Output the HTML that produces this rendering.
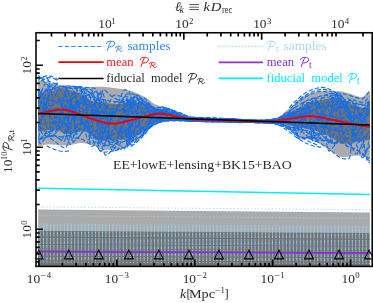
<!DOCTYPE html>
<html><head><meta charset="utf-8"><title>plot</title>
<style>html,body{margin:0;padding:0;background:#fff;overflow:hidden}svg{display:block;will-change:transform}text{font-family:"Liberation Serif",serif;white-space:pre}</style></head>
<body>
<svg width="373" height="303" viewBox="0 0 373 303" font-family="'Liberation Serif', serif">
<rect width="373" height="303" fill="#fff"/>
<defs><clipPath id="ax"><rect x="38.1" y="32.75" width="331.8" height="233.65"/></clipPath></defs>
<g clip-path="url(#ax)">
<polygon points="36,209.5 372.2,212.5 372.2,266.4 36,266.4" fill="#ababab"/>
<polygon points="36,230.7 372.2,233.0 372.2,266.4 36,266.4" fill="#737373"/>
<polygon points="36,79.6 38,79.85 40,80.17 41.99,80.54 43.99,80.97 45.99,81.43 47.99,81.92 49.98,82.41 51.98,82.9 53.98,83.37 55.98,83.8 57.97,84.19 59.97,84.57 61.97,84.94 63.97,85.28 65.96,85.59 67.96,85.86 69.96,86.12 71.96,86.39 73.95,86.65 75.95,86.88 77.95,87.09 79.95,87.25 81.95,87.36 83.94,87.4 85.94,87.37 87.94,87.3 89.94,87.2 91.93,87.08 93.93,86.96 95.93,86.85 97.93,86.76 99.92,86.71 101.92,86.71 103.92,86.83 105.92,87.03 107.91,87.29 109.91,87.58 111.91,87.86 113.91,88.11 115.9,88.35 117.9,88.59 119.9,88.84 121.9,89.12 123.9,89.43 125.89,89.78 127.89,90.19 129.89,90.71 131.89,91.34 133.88,92.05 135.88,92.83 137.88,93.67 139.88,94.54 141.87,95.49 143.87,96.56 145.87,97.74 147.87,99.02 149.86,100.4 151.86,102.18 153.86,103.64 155.86,104.57 157.85,105.34 159.85,105.99 161.85,106.58 163.85,107.16 165.85,107.78 167.84,108.47 169.84,109.18 171.84,109.88 173.84,110.59 175.83,111.31 177.83,112.02 179.83,112.74 181.83,113.52 183.82,114.39 185.82,115.23 187.82,115.91 189.82,116.33 191.81,116.58 193.81,116.79 195.81,116.96 197.81,117.11 199.8,117.24 201.8,117.36 203.8,117.49 205.8,117.61 207.8,117.73 209.79,117.84 211.79,117.94 213.79,118.04 215.79,118.14 217.78,118.23 219.78,118.33 221.78,118.42 223.78,118.51 225.77,118.6 227.77,118.69 229.77,118.79 231.77,118.89 233.76,119 235.76,119.13 237.76,119.25 239.76,119.38 241.75,119.51 243.75,119.63 245.75,119.75 247.75,119.86 249.75,119.96 251.74,120.05 253.74,120.12 255.74,120.17 257.74,120.19 259.73,120.19 261.73,120.13 263.73,120 265.73,119.83 267.72,119.63 269.72,119.38 271.72,119.02 273.72,118.56 275.71,117.98 277.71,117.31 279.71,116.32 281.71,114.81 283.7,113.06 285.7,111.34 287.7,109.77 289.7,108.22 291.7,106.63 293.69,104.96 295.69,103.14 297.69,100.97 299.69,98.8 301.68,97.13 303.68,95.93 305.68,95.05 307.68,94.31 309.67,93.67 311.67,93.11 313.67,92.64 315.67,92.19 317.66,91.73 319.66,91.31 321.66,90.95 323.66,90.68 325.65,90.53 327.65,90.51 329.65,90.56 331.65,90.65 333.65,90.79 335.64,90.96 337.64,91.15 339.64,91.36 341.64,91.62 343.63,91.99 345.63,92.44 347.63,92.96 349.63,93.51 351.62,94.19 353.62,94.98 355.62,95.66 357.62,96.31 359.61,96.88 361.61,97.19 363.61,96.59 365.61,94.8 367.6,92.95 369.6,91.27 371.6,89.5 371.6,158.5 369.6,158.12 367.6,157.69 365.61,157.15 363.61,156.58 361.61,156.07 359.61,155.68 357.62,155.5 355.62,155.57 353.62,155.81 351.62,156.15 349.63,156.52 347.63,156.87 345.63,157.11 343.63,157.2 341.64,156.91 339.64,156.19 337.64,155.13 335.64,153.85 333.65,152.42 331.65,150.96 329.65,149.56 327.65,148.31 325.65,147.25 323.66,146.18 321.66,145.12 319.66,144.07 317.66,143.05 315.67,142.11 313.67,141.24 311.67,140.48 309.67,139.87 307.68,139.35 305.68,138.86 303.68,138.33 301.68,137.71 299.69,136.89 297.69,135.76 295.69,134.41 293.69,132.97 291.7,131.56 289.7,130.29 287.7,129 285.7,127.67 283.7,126.44 281.71,125.43 279.71,124.78 277.71,124.37 275.71,124.04 273.72,123.77 271.72,123.55 269.72,123.38 267.72,123.23 265.73,123.1 263.73,122.99 261.73,122.9 259.73,122.82 257.74,122.76 255.74,122.7 253.74,122.65 251.74,122.6 249.75,122.56 247.75,122.52 245.75,122.48 243.75,122.45 241.75,122.42 239.76,122.38 237.76,122.35 235.76,122.31 233.76,122.28 231.77,122.24 229.77,122.19 227.77,122.15 225.77,122.11 223.78,122.07 221.78,122.03 219.78,121.99 217.78,121.95 215.79,121.9 213.79,121.86 211.79,121.81 209.79,121.76 207.8,121.71 205.8,121.65 203.8,121.59 201.8,121.52 199.8,121.44 197.81,121.36 195.81,121.26 193.81,121.17 191.81,121.08 189.82,120.99 187.82,120.9 185.82,120.79 183.82,120.69 181.83,120.62 179.83,120.6 177.83,120.62 175.83,120.66 173.84,120.73 171.84,120.82 169.84,120.93 167.84,121.06 165.85,121.21 163.85,121.54 161.85,122.14 159.85,122.95 157.85,123.93 155.86,125.02 153.86,126.18 151.86,127.41 149.86,129.08 147.87,131.1 145.87,133.29 143.87,135.49 141.87,137.51 139.88,139.17 137.88,140.42 135.88,141.44 133.88,142.36 131.89,143.29 129.89,144.33 127.89,145.68 125.89,146.59 123.9,147.36 121.9,148.04 119.9,148.6 117.9,149.06 115.9,149.39 113.91,149.61 111.91,149.8 109.91,149.96 107.91,150.09 105.92,150.17 103.92,150.2 101.92,149.82 99.92,148.92 97.93,147.75 95.93,146.59 93.93,145.67 91.93,145.08 89.94,144.52 87.94,143.99 85.94,143.54 83.94,143.21 81.95,143.02 79.95,143.04 77.95,143.33 75.95,143.79 73.95,144.33 71.96,144.86 69.96,145.28 67.96,145.49 65.96,145.48 63.97,145.38 61.97,145.24 59.97,145.07 57.97,144.89 55.98,144.73 53.98,144.6 51.98,144.49 49.98,144.38 47.99,144.31 45.99,144.39 43.99,144.92 41.99,145.62 40,146.16 38,146.6 36,147" fill="#ababab"/>
<polygon points="36,94.5 38,94.17 40,93.83 41.99,93.51 43.99,93.18 45.99,92.84 47.99,92.45 49.98,92 51.98,91.33 53.98,90.42 55.98,89.44 57.97,88.6 59.97,88.08 61.97,88.03 63.97,88.27 65.96,88.71 67.96,89.3 69.96,89.97 71.96,90.68 73.95,91.38 75.95,92.13 77.95,93 79.95,93.96 81.95,94.96 83.94,95.97 85.94,97.15 87.94,98.57 89.94,99.98 91.93,101.17 93.93,101.89 95.93,101.99 97.93,101.9 99.92,101.82 101.92,101.84 103.92,102.17 105.92,102.67 107.91,103.17 109.91,103.49 111.91,103.65 113.91,103.79 115.9,103.9 117.9,103.97 119.9,104 121.9,103.8 123.9,103.28 125.89,102.62 127.89,101.99 129.89,101.57 131.89,101.53 133.88,101.76 135.88,102.17 137.88,102.67 139.88,103.17 141.87,103.68 143.87,104.27 145.87,104.92 147.87,105.63 149.86,106.41 151.86,107.41 153.86,108.26 155.86,108.88 157.85,109.42 159.85,109.91 161.85,110.36 163.85,110.8 165.85,111.27 167.84,111.76 169.84,112.26 171.84,112.76 173.84,113.26 175.83,113.76 177.83,114.26 179.83,114.76 181.83,115.3 183.82,115.89 185.82,116.46 187.82,116.95 189.82,117.28 191.81,117.48 193.81,117.64 195.81,117.77 197.81,117.88 199.8,117.99 201.8,118.09 203.8,118.19 205.8,118.3 207.8,118.4 209.79,118.5 211.79,118.6 213.79,118.69 215.79,118.78 217.78,118.87 219.78,118.96 221.78,119.05 223.78,119.13 225.77,119.22 227.77,119.3 229.77,119.39 231.77,119.48 233.76,119.58 235.76,119.68 237.76,119.79 239.76,119.9 241.75,120.01 243.75,120.12 245.75,120.22 247.75,120.31 249.75,120.4 251.74,120.47 253.74,120.53 255.74,120.57 257.74,120.6 259.73,120.6 261.73,120.6 263.73,120.6 265.73,120.6 267.72,120.6 269.72,120.6 271.72,120.52 273.72,120.25 275.71,119.85 277.71,119.37 279.71,118.72 281.71,117.72 283.7,116.55 285.7,115.37 287.7,114.21 289.7,112.98 291.7,111.72 293.69,110.52 295.69,109.44 297.69,108.49 299.69,107.57 301.68,106.6 303.68,105.53 305.68,104.66 307.68,103.91 309.67,103.23 311.67,102.61 313.67,102.02 315.67,101.46 317.66,100.91 319.66,100.39 321.66,99.89 323.66,99.44 325.65,99.02 327.65,98.64 329.65,98.23 331.65,97.84 333.65,97.55 335.64,97.4 337.64,97.57 339.64,98.16 341.64,99.02 343.63,99.99 345.63,100.94 347.63,101.84 349.63,102.86 351.62,103.92 353.62,104.92 355.62,105.79 357.62,106.67 359.61,107.53 361.61,108.18 363.61,108.4 365.61,108.17 367.6,107.57 369.6,106.61 371.6,105.3 371.6,140 369.6,140.13 367.6,140.28 365.61,140.47 363.61,140.69 361.61,140.93 359.61,141.2 357.62,141.48 355.62,141.77 353.62,142.06 351.62,142.44 349.63,142.88 347.63,143.29 345.63,143.59 343.63,143.7 341.64,143.42 339.64,142.75 337.64,141.76 335.64,140.57 333.65,139.26 331.65,137.93 329.65,136.68 327.65,135.6 325.65,134.71 323.66,133.82 321.66,132.93 319.66,132.08 317.66,131.28 315.67,130.55 313.67,129.93 311.67,129.43 309.67,129.03 307.68,128.69 305.68,128.4 303.68,128.11 301.68,127.79 299.69,127.43 297.69,127.03 295.69,126.62 293.69,126.19 291.7,125.76 289.7,125.33 287.7,124.85 285.7,124.33 283.7,123.84 281.71,123.43 279.71,123.17 277.71,123.01 275.71,122.88 273.72,122.77 271.72,122.68 269.72,122.59 267.72,122.5 265.73,122.42 263.73,122.35 261.73,122.28 259.73,122.22 257.74,122.16 255.74,122.11 253.74,122.05 251.74,122 249.75,121.95 247.75,121.91 245.75,121.86 243.75,121.82 241.75,121.77 239.76,121.73 237.76,121.68 235.76,121.64 233.76,121.59 231.77,121.54 229.77,121.49 227.77,121.44 225.77,121.39 223.78,121.34 221.78,121.29 219.78,121.24 217.78,121.19 215.79,121.14 213.79,121.08 211.79,121.03 209.79,120.97 207.8,120.91 205.8,120.86 203.8,120.79 201.8,120.73 199.8,120.66 197.81,120.59 195.81,120.52 193.81,120.44 191.81,120.37 189.82,120.29 187.82,120.2 185.82,120.1 183.82,120 181.83,119.92 179.83,119.9 177.83,119.9 175.83,119.91 173.84,119.92 171.84,119.93 169.84,119.95 167.84,119.98 165.85,120 163.85,120.15 161.85,120.48 159.85,120.96 157.85,121.56 155.86,122.25 153.86,123 151.86,123.82 149.86,125.05 147.87,126.61 145.87,128.36 143.87,130.14 141.87,131.81 139.88,133.22 137.88,134.31 135.88,135.28 133.88,136.16 131.89,137.01 129.89,137.87 127.89,138.83 125.89,139.2 123.9,139.42 121.9,139.58 119.9,139.71 117.9,139.81 115.9,139.94 113.91,140.09 111.91,140.28 109.91,140.47 107.91,140.64 105.92,140.76 103.92,140.8 101.92,140.55 99.92,139.93 97.93,139.06 95.93,138.06 93.93,137.05 91.93,135.95 89.94,134.44 87.94,132.85 85.94,131.55 83.94,130.92 81.95,131.06 79.95,131.53 77.95,132.01 75.95,132.46 73.95,132.96 71.96,133.44 69.96,133.81 67.96,133.99 65.96,133.83 63.97,133.22 61.97,132.32 59.97,131.3 57.97,130.36 55.98,129.67 53.98,129.4 51.98,129.52 49.98,129.81 47.99,130.21 45.99,130.64 43.99,131.03 41.99,131.31 40,131.42 38,131.48 36,131.5" fill="#737373"/>
<g stroke="#93d2f8" stroke-width="1.0" stroke-dasharray="1.1 2.37" fill="none">
<line x1="36" y1="206.9" x2="372.2" y2="209.84"/>
<line x1="36" y1="215.6" x2="372.2" y2="218.41"/>
<line x1="36" y1="224" x2="372.2" y2="226.69"/>
<line x1="36" y1="225.3" x2="372.2" y2="227.97"/>
<line x1="36" y1="226.6" x2="372.2" y2="229.25"/>
<line x1="36" y1="227.9" x2="372.2" y2="230.53"/>
<line x1="36" y1="229.2" x2="372.2" y2="231.81"/>
<line x1="36" y1="230.5" x2="372.2" y2="233.07"/>
<line x1="36" y1="232.1" x2="372.2" y2="234.59"/>
<line x1="36" y1="233.4" x2="372.2" y2="235.83"/>
<line x1="36" y1="234.7" x2="372.2" y2="237.06"/>
<line x1="36" y1="235.9" x2="372.2" y2="238.21"/>
<line x1="36" y1="238.4" x2="372.2" y2="240.58"/>
<line x1="36" y1="239.7" x2="372.2" y2="241.81"/>
<line x1="36" y1="241" x2="372.2" y2="243.05"/>
<line x1="36" y1="242.3" x2="372.2" y2="244.29"/>
<line x1="36" y1="243.5" x2="372.2" y2="245.43"/>
<line x1="36" y1="245.5" x2="372.2" y2="247.32"/>
<line x1="36" y1="246.7" x2="372.2" y2="248.46"/>
<line x1="36" y1="247.9" x2="372.2" y2="249.61"/>
<line x1="36" y1="249.7" x2="372.2" y2="251.31"/>
<line x1="36" y1="252.7" x2="372.2" y2="254.19"/>
<line x1="36" y1="253.9" x2="372.2" y2="255.37"/>
<line x1="36" y1="255.1" x2="372.2" y2="256.55"/>
<line x1="36" y1="257.3" x2="372.2" y2="258.72"/>
<line x1="36" y1="258.5" x2="372.2" y2="259.9"/>
<line x1="36" y1="259.7" x2="372.2" y2="261.08"/>
<line x1="36" y1="262" x2="372.2" y2="263.35"/>
</g>
<g stroke="#0f6eee" stroke-width="1.12" stroke-dasharray="4.4 2.03" fill="none" stroke-linejoin="round">
<path d="M35 93.8 L36 96.0 L37 98.9 L38 102.8 L39 106.7 L40 109.5 L41 110.5 L42 110.5 L43 110.4 L44 110.3 L45 110.1 L46 110.0 L47 109.8 L48 109.7 L49 109.5 L50 109.4 L51 109.2 L52 109.1 L53 109.0 L54 108.8 L55 108.7 L56 108.6 L57 108.6 L58 108.5 L59 108.5 L60 108.6 L61 108.7 L62 108.8 L63 108.9 L64 109.1 L65 109.3 L66 109.6 L67 109.8 L68 110.1 L69 110.5 L70 110.8 L71 111.2 L72 111.6 L73 112.0 L74 112.5 L75 112.9 L76 113.4 L77 113.8 L78 114.3 L79 114.7 L80 115.2 L81 115.8 L82 116.6 L83 117.8 L84 119.2 L85 120.6 L86 122.1 L87 123.6 L88 125.3 L89 127.0 L90 128.9 L91 130.8 L92 132.8 L93 134.7 L94 136.4 L95 137.9 L96 139.2 L97 140.4 L98 141.5 L99 142.7 L100 143.9 L101 145.3 L102 147.3 L103 150.0 L104 152.8 L105 154.7 L106 155.2 L107 154.7 L108 153.9 L109 153.2 L110 152.4 L111 151.6 L112 150.8 L113 150.0 L114 149.1 L115 148.1 L116 146.3 L117 143.3 L118 139.2 L119 133.9 L120 127.9 L121 122.0 L122 116.4 L123 111.3 L124 108.1 L125 109.0 L126 113.1 L127 118.5 L128 124.4 L129 130.6 L130 135.8 L131 138.9 L132 139.4 L133 137.4 L134 135.5 L135 134.9 L136 134.8 L137 134.6 L138 134.4 L139 134.0 L140 133.5 L141 133.0 L142 132.4 L143 131.7 L144 130.9 L145 130.1 L146 129.3 L147 128.5 L148 127.8 L149 127.0 L150 126.4 L151 125.8 L152 125.2 L153 124.8 L154 124.4 L155 124.0 L156 123.7 L157 123.3 L158 122.9 L159 122.6 L160 122.2 L161 121.9 L162 121.6 L163 121.4 L164 121.2 L165 121.1 L166 121.0 L167 121.0 L168 120.9 L169 120.9 L170 120.9 L171 120.9 L172 120.8 L173 120.8 L174 120.8 L175 120.8 L176 120.8 L177 120.8 L178 120.8 L179 120.8 L180 120.8 L181 120.8 L182 120.9 L183 120.9 L184 120.9 L185 120.7 L186 120.5 L187 120.1 L188 119.6 L189 119.0 L190 118.3 L191 117.7 L192 117.3 L193 117.2 L194 117.4 L195 117.7 L196 118.2 L197 118.7 L198 119.2 L199 119.6 L200 119.9 L201 120.2 L202 120.5 L203 120.8 L204 121.1 L205 121.3 L206 121.4 L207 121.4 L208 121.3 L209 121.2 L210 121.1 L211 121.0 L212 120.8 L213 120.6 L214 120.4 L215 120.2 L216 119.9 L217 119.7 L218 119.4 L219 119.1 L220 118.9 L221 118.8 L222 118.7 L223 118.6 L224 118.6 L225 118.7 L226 118.8 L227 118.9 L228 119.0 L229 119.1 L230 119.2 L231 119.3 L232 119.4 L233 119.5 L234 119.6 L235 119.8 L236 119.9 L237 120.0 L238 120.2 L239 120.3 L240 120.5 L241 120.6 L242 120.7 L243 120.8 L244 120.9 L245 120.8 L246 120.5 L247 120.2 L248 120.1 L249 120.1 L250 120.1 L251 120.1 L252 120.2 L253 120.2 L254 120.3 L255 120.3 L256 120.3 L257 120.3 L258 120.4 L259 120.4 L260 120.4 L261 120.4 L262 120.3 L263 120.3 L264 120.3 L265 120.3 L266 120.2 L267 120.2 L268 120.2 L269 120.1 L270 120.1 L271 120.1 L272 120.0 L273 119.9 L274 119.7 L275 119.6 L276 119.4 L277 119.2 L278 119.0 L279 118.7 L280 118.4 L281 118.0 L282 117.5 L283 117.0 L284 116.6 L285 116.1 L286 115.6 L287 115.2 L288 114.8 L289 114.3 L290 113.9 L291 113.5 L292 113.1 L293 112.8 L294 112.5 L295 112.2 L296 111.9 L297 111.7 L298 111.5 L299 111.4 L300 111.2 L301 110.9 L302 110.7 L303 110.3 L304 109.7 L305 108.8 L306 107.9 L307 107.0 L308 106.4 L309 108.7 L310 118.1 L311 131.1 L312 136.6 L313 135.6 L314 133.0 L315 130.0 L316 126.6 L317 123.1 L318 119.5 L319 116.4 L320 114.5 L321 113.9 L322 114.1 L323 114.3 L324 114.6 L325 114.9 L326 115.2 L327 115.5 L328 115.8 L329 116.0 L330 116.4 L331 116.7 L332 117.0 L333 117.3 L334 117.7 L335 118.0 L336 118.4 L337 118.7 L338 118.7 L339 117.3 L340 114.5 L341 111.1 L342 107.7 L343 104.4 L344 101.7 L345 99.8 L346 98.7 L347 98.0 L348 98.3 L349 99.1 L350 100.1 L351 101.2 L352 102.3 L353 103.5 L354 104.6 L355 105.9 L356 107.4 L357 109.1 L358 110.6 L359 112.2 L360 113.7 L361 115.1 L362 116.5 L363 117.8 L364 119.0 L365 120.2 L366 121.4 L367 122.6 L368 123.9 L369 125.3 L370 126.6 L371 127.9 L372 129.1 L373 130.2" stroke-dashoffset="6.33"/>
<path d="M35 76.8 L36 76.9 L37 77.2 L38 77.5 L39 77.8 L40 78.2 L41 78.5 L42 78.9 L43 79.2 L44 79.6 L45 80.0 L46 80.4 L47 80.8 L48 81.1 L49 81.5 L50 81.9 L51 82.2 L52 82.6 L53 82.9 L54 83.2 L55 83.5 L56 83.8 L57 84.0 L58 84.3 L59 84.7 L60 85.1 L61 85.7 L62 86.2 L63 86.7 L64 87.3 L65 87.8 L66 88.6 L67 89.9 L68 92.2 L69 94.9 L70 97.8 L71 101.4 L72 106.6 L73 113.3 L74 120.5 L75 127.3 L76 132.9 L77 137.0 L78 138.9 L79 137.9 L80 135.8 L81 133.7 L82 131.6 L83 129.3 L84 127.0 L85 124.9 L86 122.8 L87 120.7 L88 118.5 L89 116.2 L90 114.0 L91 111.8 L92 109.7 L93 107.6 L94 105.4 L95 103.1 L96 100.9 L97 98.8 L98 96.7 L99 94.7 L100 92.7 L101 91.5 L102 91.8 L103 93.8 L104 96.4 L105 99.1 L106 102.1 L107 105.4 L108 108.8 L109 112.3 L110 115.3 L111 117.7 L112 119.6 L113 121.2 L114 122.8 L115 124.5 L116 126.1 L117 127.7 L118 129.4 L119 131.0 L120 132.7 L121 134.4 L122 136.1 L123 137.7 L124 139.1 L125 140.1 L126 140.7 L127 141.3 L128 141.6 L129 141.8 L130 141.9 L131 141.9 L132 141.2 L133 138.7 L134 133.9 L135 126.8 L136 119.2 L137 112.5 L138 106.8 L139 102.3 L140 99.5 L141 98.6 L142 98.9 L143 99.6 L144 100.4 L145 101.2 L146 102.0 L147 102.8 L148 103.5 L149 104.3 L150 105.1 L151 105.8 L152 106.6 L153 107.3 L154 107.9 L155 108.4 L156 108.9 L157 109.3 L158 109.8 L159 110.2 L160 110.6 L161 111.0 L162 111.5 L163 112.1 L164 112.8 L165 113.6 L166 114.8 L167 116.1 L168 117.5 L169 118.4 L170 118.8 L171 118.8 L172 118.8 L173 118.8 L174 118.8 L175 118.8 L176 118.9 L177 118.9 L178 118.9 L179 119.0 L180 119.0 L181 119.1 L182 119.1 L183 119.2 L184 119.4 L185 119.5 L186 119.6 L187 119.7 L188 119.8 L189 119.9 L190 120.0 L191 120.0 L192 120.1 L193 120.2 L194 120.2 L195 120.3 L196 120.3 L197 120.4 L198 120.4 L199 120.5 L200 120.5 L201 120.6 L202 120.6 L203 120.7 L204 120.7 L205 120.8 L206 120.8 L207 120.9 L208 120.9 L209 121.0 L210 121.0 L211 121.0 L212 121.1 L213 121.1 L214 121.2 L215 121.2 L216 121.2 L217 121.3 L218 121.3 L219 121.3 L220 121.4 L221 121.4 L222 121.5 L223 121.5 L224 121.5 L225 121.6 L226 121.6 L227 121.6 L228 121.7 L229 121.7 L230 121.7 L231 121.8 L232 121.8 L233 121.8 L234 121.9 L235 121.9 L236 121.9 L237 122.0 L238 122.1 L239 122.2 L240 122.4 L241 122.5 L242 122.5 L243 122.4 L244 122.2 L245 122.0 L246 121.8 L247 121.5 L248 121.3 L249 121.1 L250 120.8 L251 120.6 L252 120.4 L253 120.3 L254 120.3 L255 120.3 L256 120.4 L257 120.6 L258 120.8 L259 121.0 L260 121.2 L261 121.4 L262 121.6 L263 121.6 L264 121.5 L265 121.4 L266 121.5 L267 121.9 L268 122.4 L269 122.5 L270 122.5 L271 122.5 L272 122.5 L273 122.4 L274 122.3 L275 122.3 L276 122.2 L277 122.1 L278 121.9 L279 121.8 L280 121.6 L281 121.4 L282 121.2 L283 121.0 L284 120.8 L285 120.5 L286 120.2 L287 119.8 L288 119.4 L289 119.0 L290 118.6 L291 118.2 L292 117.8 L293 117.3 L294 116.9 L295 116.4 L296 115.9 L297 115.4 L298 114.9 L299 114.4 L300 113.8 L301 113.3 L302 112.6 L303 112.0 L304 111.3 L305 110.7 L306 110.0 L307 109.4 L308 108.8 L309 108.1 L310 107.5 L311 106.8 L312 106.1 L313 105.5 L314 104.8 L315 104.0 L316 103.3 L317 102.7 L318 103.2 L319 105.7 L320 109.5 L321 113.7 L322 118.5 L323 124.0 L324 129.8 L325 135.4 L326 140.6 L327 145.6 L328 149.5 L329 151.2 L330 150.9 L331 149.8 L332 148.6 L333 147.4 L334 146.2 L335 145.0 L336 143.7 L337 142.3 L338 140.7 L339 139.7 L340 140.1 L341 141.2 L342 142.4 L343 143.4 L344 144.2 L345 144.8 L346 145.3 L347 145.7 L348 146.2 L349 146.6 L350 147.0 L351 147.4 L352 147.8 L353 148.2 L354 148.6 L355 149.1 L356 149.6 L357 150.1 L358 150.7 L359 151.4 L360 152.1 L361 152.8 L362 153.7 L363 154.5 L364 155.5 L365 156.4 L366 157.4 L367 158.5 L368 159.5 L369 160.5 L370 161.6 L371 162.6 L372 163.2 L373 163.0" stroke-dashoffset="0.56"/>
<path d="M35 94.9 L36 94.5 L37 94.2 L38 93.8 L39 93.4 L40 93.1 L41 92.8 L42 92.4 L43 92.1 L44 91.8 L45 91.6 L46 91.3 L47 91.0 L48 90.7 L49 90.4 L50 90.2 L51 89.8 L52 89.5 L53 89.1 L54 88.7 L55 88.3 L56 87.9 L57 87.6 L58 87.3 L59 87.1 L60 87.0 L61 87.0 L62 87.0 L63 87.1 L64 87.2 L65 87.3 L66 87.5 L67 87.7 L68 87.9 L69 88.1 L70 88.3 L71 88.5 L72 88.8 L73 89.3 L74 90.4 L75 93.0 L76 97.6 L77 103.1 L78 107.9 L79 110.7 L80 111.5 L81 111.8 L82 111.9 L83 112.0 L84 112.1 L85 112.2 L86 112.4 L87 112.5 L88 112.7 L89 112.9 L90 113.1 L91 113.3 L92 113.4 L93 113.5 L94 113.6 L95 113.6 L96 113.6 L97 113.5 L98 113.5 L99 113.4 L100 113.3 L101 113.2 L102 113.1 L103 113.0 L104 113.0 L105 112.9 L106 112.8 L107 112.8 L108 112.7 L109 112.6 L110 112.4 L111 112.2 L112 112.0 L113 111.8 L114 111.5 L115 111.2 L116 111.0 L117 110.7 L118 110.4 L119 110.1 L120 109.7 L121 109.3 L122 108.9 L123 108.4 L124 107.9 L125 107.3 L126 106.7 L127 106.1 L128 105.6 L129 105.1 L130 104.7 L131 104.3 L132 104.0 L133 103.8 L134 103.7 L135 103.5 L136 103.5 L137 103.5 L138 103.5 L139 103.5 L140 103.5 L141 103.6 L142 103.7 L143 103.8 L144 104.0 L145 104.3 L146 104.5 L147 105.0 L148 106.8 L149 110.9 L150 116.2 L151 121.2 L152 124.2 L153 124.8 L154 124.5 L155 124.1 L156 123.6 L157 123.2 L158 122.8 L159 122.4 L160 122.0 L161 121.7 L162 121.4 L163 121.1 L164 120.9 L165 120.8 L166 120.7 L167 120.6 L168 120.6 L169 120.6 L170 120.5 L171 120.5 L172 120.5 L173 120.4 L174 120.4 L175 120.3 L176 120.2 L177 120.0 L178 119.7 L179 119.6 L180 119.7 L181 119.7 L182 119.8 L183 119.9 L184 120.0 L185 120.1 L186 120.1 L187 120.2 L188 120.3 L189 120.3 L190 120.4 L191 120.5 L192 120.5 L193 120.6 L194 120.6 L195 120.7 L196 120.8 L197 120.8 L198 120.9 L199 120.9 L200 121.0 L201 121.1 L202 121.1 L203 121.2 L204 121.2 L205 121.3 L206 121.3 L207 121.4 L208 121.4 L209 121.5 L210 121.5 L211 121.4 L212 121.2 L213 121.0 L214 120.9 L215 120.8 L216 120.7 L217 120.6 L218 120.5 L219 120.5 L220 120.3 L221 120.2 L222 120.1 L223 119.9 L224 119.8 L225 119.6 L226 119.5 L227 119.4 L228 119.3 L229 119.3 L230 119.2 L231 119.2 L232 119.2 L233 119.1 L234 119.1 L235 119.1 L236 119.1 L237 119.2 L238 119.2 L239 119.3 L240 119.4 L241 119.5 L242 119.6 L243 119.7 L244 119.7 L245 119.8 L246 119.9 L247 120.0 L248 120.1 L249 120.1 L250 120.2 L251 120.3 L252 120.3 L253 120.4 L254 120.4 L255 120.5 L256 120.5 L257 120.5 L258 120.6 L259 120.6 L260 120.6 L261 120.6 L262 120.7 L263 120.7 L264 120.8 L265 120.8 L266 120.9 L267 120.9 L268 120.9 L269 120.9 L270 121.0 L271 121.0 L272 120.9 L273 120.9 L274 120.8 L275 120.7 L276 120.7 L277 120.6 L278 120.5 L279 120.5 L280 120.5 L281 120.5 L282 120.6 L283 120.8 L284 121.0 L285 121.2 L286 121.5 L287 121.9 L288 122.2 L289 122.7 L290 123.2 L291 123.7 L292 124.2 L293 124.8 L294 125.5 L295 126.2 L296 126.9 L297 127.8 L298 128.6 L299 129.2 L300 128.9 L301 127.5 L302 125.4 L303 123.1 L304 120.7 L305 118.2 L306 116.0 L307 114.0 L308 112.0 L309 110.0 L310 107.9 L311 105.8 L312 103.7 L313 101.7 L314 100.0 L315 99.0 L316 101.7 L317 110.0 L318 118.0 L319 120.1 L320 118.9 L321 117.3 L322 115.7 L323 114.2 L324 112.6 L325 110.9 L326 109.1 L327 107.2 L328 105.2 L329 103.1 L330 100.8 L331 98.8 L332 97.4 L333 96.4 L334 95.5 L335 94.8 L336 94.1 L337 93.5 L338 93.1 L339 93.4 L340 94.2 L341 95.3 L342 96.6 L343 98.0 L344 99.6 L345 101.8 L346 104.7 L347 107.8 L348 110.9 L349 114.0 L350 117.0 L351 119.5 L352 121.0 L353 121.6 L354 121.9 L355 122.0 L356 122.1 L357 122.3 L358 122.4 L359 122.5 L360 122.4 L361 122.0 L362 121.2 L363 120.4 L364 119.5 L365 118.5 L366 117.3 L367 116.0 L368 114.6 L369 113.0 L370 111.2 L371 109.2 L372 107.2 L373 105.6" stroke-dashoffset="3.27"/>
<path d="M35 118.8 L36 116.5 L37 114.0 L38 111.3 L39 108.5 L40 105.8 L41 103.1 L42 101.5 L43 101.9 L44 103.9 L45 106.2 L46 108.6 L47 111.0 L48 113.0 L49 114.2 L50 114.3 L51 113.8 L52 113.3 L53 112.8 L54 112.3 L55 111.8 L56 111.3 L57 110.9 L58 110.4 L59 110.0 L60 109.6 L61 109.2 L62 108.9 L63 108.6 L64 108.3 L65 108.1 L66 107.9 L67 107.8 L68 107.7 L69 107.6 L70 107.6 L71 107.5 L72 107.5 L73 107.5 L74 107.6 L75 107.6 L76 107.7 L77 107.8 L78 107.9 L79 108.0 L80 108.1 L81 108.2 L82 108.3 L83 108.5 L84 108.6 L85 108.8 L86 109.0 L87 109.2 L88 109.4 L89 109.7 L90 109.9 L91 110.2 L92 110.3 L93 110.5 L94 110.5 L95 110.5 L96 110.4 L97 110.0 L98 109.1 L99 107.8 L100 106.9 L101 107.2 L102 109.0 L103 111.7 L104 114.5 L105 117.4 L106 120.2 L107 123.1 L108 126.1 L109 129.1 L110 132.0 L111 134.9 L112 137.6 L113 139.9 L114 141.2 L115 141.2 L116 140.2 L117 138.4 L118 136.3 L119 134.1 L120 131.9 L121 129.6 L122 127.2 L123 124.8 L124 122.5 L125 120.2 L126 118.1 L127 115.9 L128 113.8 L129 111.7 L130 109.7 L131 107.7 L132 105.8 L133 104.1 L134 102.6 L135 101.5 L136 100.7 L137 100.1 L138 99.5 L139 98.9 L140 98.4 L141 98.0 L142 97.6 L143 97.4 L144 97.6 L145 98.5 L146 99.7 L147 100.9 L148 102.0 L149 103.2 L150 104.3 L151 105.3 L152 106.4 L153 107.3 L154 108.2 L155 108.9 L156 109.6 L157 110.3 L158 110.8 L159 111.4 L160 111.8 L161 112.3 L162 112.7 L163 113.2 L164 113.7 L165 114.2 L166 114.9 L167 115.3 L168 115.2 L169 114.7 L170 114.2 L171 113.9 L172 113.7 L173 113.7 L174 113.8 L175 114.1 L176 114.4 L177 115.1 L178 117.0 L179 119.2 L180 120.2 L181 120.4 L182 120.4 L183 120.5 L184 120.5 L185 120.6 L186 120.7 L187 120.7 L188 120.8 L189 120.8 L190 120.9 L191 120.9 L192 121.0 L193 121.1 L194 121.1 L195 121.2 L196 121.2 L197 121.3 L198 121.3 L199 121.4 L200 121.5 L201 121.5 L202 121.6 L203 121.6 L204 121.7 L205 121.7 L206 121.7 L207 121.8 L208 121.8 L209 121.9 L210 121.9 L211 121.9 L212 121.9 L213 121.9 L214 121.8 L215 121.8 L216 121.8 L217 121.7 L218 121.7 L219 121.7 L220 121.7 L221 121.6 L222 121.6 L223 121.6 L224 121.5 L225 121.5 L226 121.5 L227 121.5 L228 121.4 L229 121.4 L230 121.4 L231 121.3 L232 121.3 L233 121.3 L234 121.2 L235 121.2 L236 121.1 L237 121.0 L238 121.0 L239 120.9 L240 120.8 L241 120.7 L242 120.6 L243 120.6 L244 120.5 L245 120.4 L246 120.4 L247 120.3 L248 120.3 L249 120.3 L250 120.3 L251 120.3 L252 120.3 L253 120.3 L254 120.3 L255 120.4 L256 120.4 L257 120.4 L258 120.4 L259 120.4 L260 120.4 L261 120.4 L262 120.3 L263 120.3 L264 120.2 L265 120.2 L266 120.1 L267 120.0 L268 120.0 L269 119.9 L270 119.9 L271 119.8 L272 119.8 L273 119.6 L274 119.5 L275 119.4 L276 119.2 L277 119.0 L278 118.8 L279 118.5 L280 118.2 L281 117.8 L282 117.5 L283 117.6 L284 118.0 L285 118.6 L286 119.7 L287 121.3 L288 123.3 L289 125.5 L290 127.6 L291 129.5 L292 130.5 L293 130.5 L294 129.9 L295 129.1 L296 128.0 L297 126.8 L298 125.3 L299 123.7 L300 122.0 L301 120.1 L302 118.2 L303 116.4 L304 114.8 L305 113.3 L306 111.7 L307 110.1 L308 108.4 L309 106.6 L310 104.8 L311 103.0 L312 101.5 L313 100.1 L314 98.9 L315 98.3 L316 98.1 L317 98.0 L318 98.0 L319 98.0 L320 97.9 L321 97.9 L322 97.9 L323 97.9 L324 97.9 L325 97.9 L326 97.8 L327 97.6 L328 97.3 L329 97.0 L330 96.6 L331 96.2 L332 95.9 L333 95.6 L334 95.4 L335 95.2 L336 95.0 L337 94.9 L338 94.9 L339 94.9 L340 95.1 L341 95.7 L342 96.7 L343 97.8 L344 99.1 L345 100.6 L346 102.6 L347 104.9 L348 107.4 L349 109.9 L350 112.4 L351 114.8 L352 117.0 L353 118.0 L354 115.5 L355 109.2 L356 104.0 L357 103.4 L358 106.5 L359 111.7 L360 117.7 L361 124.0 L362 130.3 L363 136.8 L364 143.4 L365 150.2 L366 156.4 L367 160.4 L368 162.0 L369 162.6 L370 163.0 L371 163.5 L372 163.8 L373 164.1" stroke-dashoffset="5.85"/>
<path d="M35 132.0 L36 132.2 L37 132.9 L38 136.1 L39 141.4 L40 143.7 L41 143.1 L42 142.0 L43 140.8 L44 139.7 L45 138.6 L46 137.6 L47 136.6 L48 135.6 L49 134.6 L50 133.6 L51 132.6 L52 131.6 L53 130.6 L54 129.6 L55 128.6 L56 127.6 L57 126.6 L58 125.6 L59 124.7 L60 123.7 L61 122.6 L62 121.5 L63 120.4 L64 119.2 L65 118.0 L66 116.7 L67 115.5 L68 114.2 L69 113.0 L70 111.9 L71 110.9 L72 109.9 L73 109.1 L74 108.2 L75 107.4 L76 106.7 L77 105.9 L78 105.2 L79 104.5 L80 103.8 L81 103.1 L82 102.5 L83 101.8 L84 100.9 L85 99.8 L86 98.7 L87 97.9 L88 97.4 L89 97.0 L90 97.0 L91 100.7 L92 113.2 L93 129.1 L94 135.8 L95 135.2 L96 133.0 L97 130.6 L98 128.1 L99 125.6 L100 123.0 L101 120.6 L102 118.3 L103 116.1 L104 113.9 L105 111.6 L106 109.4 L107 107.2 L108 105.0 L109 103.0 L110 101.0 L111 99.2 L112 97.4 L113 95.9 L114 95.1 L115 95.0 L116 95.2 L117 95.4 L118 95.6 L119 95.9 L120 96.1 L121 96.3 L122 96.4 L123 96.5 L124 96.6 L125 96.7 L126 96.7 L127 96.7 L128 96.8 L129 96.9 L130 97.0 L131 97.2 L132 97.5 L133 97.8 L134 98.1 L135 98.5 L136 99.0 L137 99.5 L138 100.2 L139 100.8 L140 101.4 L141 102.0 L142 102.6 L143 103.2 L144 103.8 L145 104.4 L146 105.1 L147 105.8 L148 106.4 L149 107.1 L150 107.8 L151 108.4 L152 109.0 L153 109.5 L154 109.9 L155 110.3 L156 110.6 L157 110.9 L158 111.2 L159 111.5 L160 111.7 L161 112.0 L162 112.2 L163 112.5 L164 112.8 L165 113.0 L166 113.3 L167 113.7 L168 114.0 L169 114.3 L170 114.6 L171 115.0 L172 115.3 L173 115.7 L174 116.1 L175 116.4 L176 116.8 L177 117.2 L178 117.5 L179 117.8 L180 118.1 L181 118.4 L182 118.6 L183 118.8 L184 119.0 L185 119.2 L186 119.4 L187 119.6 L188 119.7 L189 119.8 L190 120.0 L191 120.1 L192 120.2 L193 120.2 L194 120.3 L195 120.4 L196 120.5 L197 120.6 L198 120.6 L199 120.7 L200 120.8 L201 120.8 L202 120.9 L203 121.0 L204 121.0 L205 121.1 L206 121.2 L207 121.2 L208 121.3 L209 121.4 L210 121.4 L211 121.5 L212 121.5 L213 121.6 L214 121.7 L215 121.7 L216 121.8 L217 121.8 L218 121.8 L219 121.6 L220 121.4 L221 121.2 L222 120.9 L223 120.7 L224 120.4 L225 120.0 L226 119.6 L227 119.3 L228 119.1 L229 119.0 L230 119.0 L231 119.1 L232 119.5 L233 120.0 L234 120.7 L235 121.3 L236 121.7 L237 121.9 L238 121.8 L239 121.7 L240 121.5 L241 121.3 L242 121.1 L243 120.9 L244 120.7 L245 120.7 L246 120.7 L247 120.7 L248 120.7 L249 120.7 L250 120.7 L251 120.8 L252 120.8 L253 120.8 L254 120.8 L255 120.8 L256 120.8 L257 120.8 L258 120.8 L259 120.8 L260 120.8 L261 120.8 L262 120.8 L263 120.8 L264 120.8 L265 120.8 L266 120.8 L267 120.8 L268 120.9 L269 120.9 L270 120.9 L271 120.9 L272 120.9 L273 120.8 L274 120.8 L275 120.7 L276 120.6 L277 120.5 L278 120.5 L279 120.4 L280 120.4 L281 120.4 L282 120.5 L283 120.6 L284 120.8 L285 121.0 L286 121.3 L287 121.7 L288 122.1 L289 122.5 L290 123.0 L291 123.5 L292 124.0 L293 124.6 L294 125.3 L295 126.0 L296 126.7 L297 127.5 L298 128.2 L299 129.1 L300 129.9 L301 130.7 L302 131.6 L303 132.4 L304 133.3 L305 134.1 L306 135.0 L307 135.8 L308 136.7 L309 137.6 L310 138.5 L311 139.4 L312 139.4 L313 136.5 L314 129.0 L315 119.5 L316 111.7 L317 107.7 L318 106.6 L319 106.5 L320 106.5 L321 106.5 L322 106.5 L323 106.5 L324 106.6 L325 106.6 L326 106.6 L327 106.6 L328 106.6 L329 106.5 L330 106.5 L331 106.4 L332 106.2 L333 105.7 L334 105.1 L335 104.4 L336 103.9 L337 103.3 L338 102.9 L339 102.5 L340 102.1 L341 102.0 L342 101.9 L343 101.8 L344 101.7 L345 101.7 L346 101.6 L347 101.7 L348 101.8 L349 102.1 L350 102.4 L351 102.7 L352 103.0 L353 103.2 L354 103.4 L355 103.6 L356 103.8 L357 104.0 L358 104.1 L359 104.2 L360 104.3 L361 104.4 L362 104.3 L363 104.3 L364 104.2 L365 103.8 L366 103.3 L367 102.6 L368 101.8 L369 101.2 L370 101.1 L371 101.8 L372 103.2 L373 105.4" stroke-dashoffset="2.55"/>
<path d="M35 139.7 L36 139.7 L37 139.5 L38 139.3 L39 139.1 L40 138.9 L41 138.7 L42 138.4 L43 138.1 L44 137.8 L45 137.5 L46 137.2 L47 137.0 L48 136.8 L49 136.6 L50 136.5 L51 136.3 L52 136.2 L53 136.1 L54 136.0 L55 136.0 L56 136.1 L57 136.2 L58 136.4 L59 136.6 L60 136.8 L61 136.9 L62 136.9 L63 136.8 L64 136.7 L65 136.6 L66 136.4 L67 136.1 L68 135.8 L69 135.3 L70 134.8 L71 134.3 L72 133.5 L73 132.3 L74 130.8 L75 129.3 L76 127.8 L77 126.4 L78 125.2 L79 124.0 L80 122.9 L81 122.0 L82 121.6 L83 122.4 L84 123.9 L85 125.6 L86 127.5 L87 129.6 L88 131.7 L89 133.8 L90 135.8 L91 137.5 L92 139.1 L93 140.6 L94 142.0 L95 143.4 L96 144.8 L97 146.2 L98 147.7 L99 149.2 L100 150.5 L101 151.3 L102 150.5 L103 148.6 L104 146.1 L105 143.4 L106 140.0 L107 135.7 L108 130.9 L109 126.2 L110 121.6 L111 117.3 L112 113.0 L113 108.8 L114 104.9 L115 102.3 L116 101.4 L117 101.5 L118 101.8 L119 102.1 L120 102.4 L121 102.6 L122 102.7 L123 102.7 L124 102.7 L125 102.6 L126 102.5 L127 102.5 L128 102.5 L129 102.6 L130 102.7 L131 102.9 L132 103.2 L133 103.6 L134 104.0 L135 104.4 L136 104.8 L137 105.2 L138 105.7 L139 106.1 L140 106.4 L141 106.8 L142 107.2 L143 107.5 L144 107.9 L145 108.2 L146 108.6 L147 108.9 L148 109.2 L149 109.5 L150 109.8 L151 110.1 L152 110.4 L153 110.7 L154 110.9 L155 111.1 L156 111.3 L157 111.7 L158 113.4 L159 116.6 L160 117.3 L161 113.5 L162 110.6 L163 110.2 L164 110.7 L165 111.3 L166 111.9 L167 112.4 L168 113.0 L169 113.5 L170 114.1 L171 114.6 L172 115.2 L173 115.8 L174 116.4 L175 117.1 L176 117.7 L177 118.3 L178 118.7 L179 119.2 L180 119.5 L181 119.8 L182 120.0 L183 120.1 L184 120.3 L185 120.4 L186 120.5 L187 120.7 L188 120.8 L189 120.9 L190 120.9 L191 121.0 L192 121.0 L193 121.1 L194 121.1 L195 121.1 L196 121.2 L197 121.2 L198 121.3 L199 121.3 L200 121.4 L201 121.4 L202 121.4 L203 121.5 L204 121.5 L205 121.5 L206 121.6 L207 121.6 L208 121.6 L209 121.7 L210 121.7 L211 121.7 L212 121.7 L213 121.8 L214 121.8 L215 121.8 L216 121.8 L217 121.8 L218 121.9 L219 121.9 L220 121.9 L221 121.9 L222 122.0 L223 122.0 L224 122.0 L225 122.0 L226 122.0 L227 122.1 L228 122.1 L229 122.1 L230 122.1 L231 122.1 L232 122.2 L233 122.2 L234 122.2 L235 122.2 L236 122.2 L237 122.3 L238 122.3 L239 122.3 L240 122.3 L241 122.3 L242 122.4 L243 122.4 L244 122.4 L245 122.4 L246 122.4 L247 122.4 L248 122.5 L249 122.5 L250 122.5 L251 122.5 L252 122.5 L253 122.6 L254 122.6 L255 122.6 L256 122.7 L257 122.7 L258 122.7 L259 122.8 L260 122.7 L261 122.2 L262 121.2 L263 120.4 L264 120.2 L265 120.2 L266 120.2 L267 120.3 L268 120.4 L269 120.6 L270 120.7 L271 120.8 L272 120.8 L273 120.8 L274 120.8 L275 120.9 L276 121.0 L277 121.2 L278 121.5 L279 121.8 L280 122.3 L281 122.8 L282 123.4 L283 124.0 L284 124.6 L285 125.1 L286 125.4 L287 125.8 L288 126.1 L289 126.5 L290 126.8 L291 127.1 L292 127.4 L293 127.7 L294 128.1 L295 128.4 L296 128.7 L297 129.0 L298 129.2 L299 129.5 L300 129.7 L301 129.9 L302 130.1 L303 130.2 L304 130.4 L305 130.5 L306 130.6 L307 130.8 L308 130.9 L309 131.0 L310 131.2 L311 131.3 L312 131.5 L313 131.8 L314 132.0 L315 132.3 L316 132.6 L317 132.9 L318 133.3 L319 133.6 L320 134.0 L321 134.4 L322 134.7 L323 134.4 L324 132.7 L325 130.0 L326 126.9 L327 123.6 L328 120.3 L329 117.1 L330 113.9 L331 110.6 L332 107.1 L333 103.5 L334 100.1 L335 97.5 L336 96.2 L337 96.0 L338 96.4 L339 97.1 L340 98.1 L341 99.5 L342 101.5 L343 103.7 L344 105.9 L345 108.2 L346 110.5 L347 112.9 L348 115.4 L349 117.8 L350 120.2 L351 122.6 L352 125.0 L353 127.5 L354 129.9 L355 132.2 L356 134.5 L357 136.7 L358 138.8 L359 140.7 L360 142.6 L361 144.5 L362 146.4 L363 148.4 L364 150.0 L365 150.4 L366 150.0 L367 149.2 L368 148.4 L369 147.4 L370 146.5 L371 145.5 L372 144.5 L373 143.5" stroke-dashoffset="1.67"/>
<path d="M35 92.9 L36 92.7 L37 92.4 L38 92.1 L39 91.8 L40 91.5 L41 91.3 L42 91.0 L43 90.8 L44 90.5 L45 90.3 L46 90.1 L47 89.6 L48 88.9 L49 87.9 L50 87.0 L51 86.2 L52 85.4 L53 84.7 L54 84.2 L55 83.7 L56 83.4 L57 83.2 L58 83.1 L59 83.2 L60 83.5 L61 83.8 L62 84.2 L63 84.4 L64 84.7 L65 84.9 L66 85.1 L67 85.4 L68 85.6 L69 85.8 L70 86.0 L71 86.2 L72 86.4 L73 86.7 L74 86.9 L75 87.1 L76 87.4 L77 87.7 L78 87.9 L79 88.2 L80 88.5 L81 88.8 L82 89.1 L83 89.4 L84 89.7 L85 90.1 L86 90.5 L87 91.0 L88 91.4 L89 92.0 L90 92.7 L91 94.0 L92 95.5 L93 97.1 L94 98.5 L95 99.8 L96 100.9 L97 102.1 L98 103.4 L99 104.8 L100 106.2 L101 107.6 L102 109.1 L103 110.6 L104 112.2 L105 113.9 L106 115.5 L107 117.0 L108 118.6 L109 120.1 L110 121.6 L111 123.1 L112 124.6 L113 126.1 L114 127.5 L115 128.9 L116 130.3 L117 131.7 L118 133.1 L119 134.4 L120 135.0 L121 134.7 L122 133.9 L123 133.0 L124 132.0 L125 131.0 L126 130.0 L127 129.0 L128 127.9 L129 126.8 L130 125.6 L131 124.5 L132 123.3 L133 122.2 L134 121.2 L135 120.1 L136 119.1 L137 118.2 L138 117.3 L139 116.6 L140 115.8 L141 115.1 L142 114.4 L143 113.8 L144 113.3 L145 112.7 L146 112.3 L147 111.8 L148 111.5 L149 111.2 L150 110.9 L151 110.7 L152 110.6 L153 110.5 L154 110.4 L155 110.3 L156 110.4 L157 111.4 L158 114.7 L159 119.4 L160 121.6 L161 121.7 L162 121.3 L163 121.0 L164 120.7 L165 120.5 L166 120.3 L167 120.2 L168 120.1 L169 120.0 L170 119.9 L171 119.8 L172 119.5 L173 119.3 L174 119.1 L175 118.9 L176 118.8 L177 118.6 L178 118.5 L179 118.5 L180 118.5 L181 118.5 L182 118.5 L183 118.5 L184 118.6 L185 118.6 L186 118.7 L187 118.7 L188 118.8 L189 118.8 L190 118.8 L191 118.8 L192 118.8 L193 118.7 L194 118.7 L195 118.7 L196 118.6 L197 118.6 L198 118.5 L199 118.5 L200 118.4 L201 118.4 L202 118.3 L203 118.3 L204 118.2 L205 118.2 L206 118.2 L207 118.2 L208 118.3 L209 118.3 L210 118.3 L211 118.3 L212 118.4 L213 118.4 L214 118.5 L215 118.5 L216 118.5 L217 118.6 L218 118.6 L219 118.7 L220 118.7 L221 118.8 L222 118.8 L223 118.9 L224 118.9 L225 119.0 L226 119.0 L227 119.1 L228 119.1 L229 119.1 L230 119.2 L231 119.2 L232 119.3 L233 119.3 L234 119.4 L235 119.5 L236 119.5 L237 119.6 L238 119.6 L239 119.7 L240 119.8 L241 119.8 L242 119.9 L243 119.9 L244 120.0 L245 120.0 L246 120.1 L247 120.1 L248 120.2 L249 120.2 L250 120.3 L251 120.3 L252 120.4 L253 120.4 L254 120.4 L255 120.4 L256 120.5 L257 120.5 L258 120.5 L259 120.5 L260 120.5 L261 120.5 L262 120.5 L263 120.5 L264 120.5 L265 120.4 L266 120.4 L267 120.5 L268 120.5 L269 120.6 L270 120.7 L271 120.8 L272 120.8 L273 120.8 L274 120.8 L275 120.7 L276 120.8 L277 120.8 L278 121.0 L279 121.2 L280 121.4 L281 121.7 L282 121.9 L283 122.2 L284 122.5 L285 122.9 L286 123.2 L287 123.3 L288 123.3 L289 123.2 L290 123.2 L291 123.0 L292 123.0 L293 123.5 L294 125.5 L295 129.0 L296 132.8 L297 134.3 L298 131.8 L299 127.0 L300 121.5 L301 116.2 L302 111.5 L303 107.5 L304 105.1 L305 104.8 L306 105.5 L307 106.5 L308 107.7 L309 109.0 L310 110.3 L311 111.7 L312 113.1 L313 114.3 L314 115.5 L315 116.8 L316 118.4 L317 120.1 L318 122.0 L319 123.9 L320 125.8 L321 127.4 L322 128.2 L323 128.3 L324 128.0 L325 127.6 L326 127.3 L327 126.9 L328 126.5 L329 126.1 L330 125.7 L331 125.3 L332 124.8 L333 124.3 L334 123.8 L335 123.2 L336 122.6 L337 121.9 L338 121.3 L339 120.6 L340 120.1 L341 119.5 L342 119.0 L343 118.5 L344 118.0 L345 117.5 L346 117.1 L347 116.7 L348 116.6 L349 116.5 L350 116.4 L351 116.4 L352 116.3 L353 116.3 L354 116.3 L355 116.2 L356 116.2 L357 116.1 L358 116.1 L359 116.0 L360 116.0 L361 115.9 L362 115.8 L363 115.6 L364 115.3 L365 114.9 L366 114.3 L367 113.6 L368 112.8 L369 111.9 L370 110.9 L371 109.8 L372 108.7 L373 108.0" stroke-dashoffset="3.56"/>
<path d="M35 142.4 L36 141.7 L37 140.9 L38 140.1 L39 139.3 L40 138.5 L41 137.7 L42 136.8 L43 136.0 L44 135.1 L45 134.3 L46 133.5 L47 132.7 L48 132.0 L49 131.5 L50 131.3 L51 131.1 L52 131.0 L53 131.0 L54 131.0 L55 131.1 L56 131.1 L57 130.1 L58 127.0 L59 122.2 L60 116.9 L61 111.3 L62 105.8 L63 100.4 L64 95.3 L65 91.5 L66 92.1 L67 99.6 L68 111.1 L69 122.1 L70 130.4 L71 136.1 L72 140.1 L73 141.5 L74 135.8 L75 120.7 L76 102.8 L77 91.2 L78 87.0 L79 86.4 L80 86.6 L81 86.9 L82 87.3 L83 87.6 L84 88.0 L85 88.5 L86 89.0 L87 89.4 L88 89.8 L89 89.9 L90 89.8 L91 89.8 L92 90.3 L93 92.4 L94 96.3 L95 101.3 L96 106.8 L97 112.6 L98 119.0 L99 126.0 L100 133.3 L101 139.6 L102 143.7 L103 145.4 L104 145.7 L105 145.7 L106 145.5 L107 145.3 L108 145.2 L109 145.0 L110 144.8 L111 144.5 L112 144.3 L113 144.1 L114 143.9 L115 143.7 L116 143.5 L117 143.2 L118 143.0 L119 142.8 L120 142.5 L121 142.3 L122 142.1 L123 141.8 L124 141.5 L125 141.3 L126 141.0 L127 140.6 L128 140.2 L129 139.6 L130 139.0 L131 138.5 L132 137.9 L133 137.3 L134 136.8 L135 136.2 L136 135.6 L137 135.0 L138 134.4 L139 133.7 L140 132.9 L141 132.0 L142 131.0 L143 129.9 L144 128.9 L145 127.8 L146 126.8 L147 125.9 L148 125.0 L149 124.1 L150 123.3 L151 122.7 L152 122.1 L153 121.5 L154 121.1 L155 120.7 L156 120.2 L157 119.9 L158 119.5 L159 119.2 L160 118.9 L161 119.1 L162 119.8 L163 120.5 L164 120.7 L165 120.7 L166 120.7 L167 120.6 L168 120.6 L169 120.6 L170 120.6 L171 120.5 L172 120.5 L173 120.5 L174 120.5 L175 120.5 L176 120.5 L177 120.5 L178 120.5 L179 120.5 L180 120.5 L181 120.5 L182 120.5 L183 120.6 L184 120.6 L185 120.7 L186 120.8 L187 120.9 L188 120.9 L189 121.0 L190 121.1 L191 121.2 L192 121.2 L193 121.3 L194 121.4 L195 121.4 L196 121.4 L197 121.4 L198 121.4 L199 121.4 L200 121.4 L201 121.4 L202 121.4 L203 121.4 L204 121.3 L205 121.3 L206 121.3 L207 121.3 L208 121.3 L209 121.2 L210 121.2 L211 121.2 L212 121.2 L213 121.1 L214 121.1 L215 121.1 L216 121.1 L217 121.0 L218 121.0 L219 121.0 L220 121.0 L221 120.9 L222 120.9 L223 120.9 L224 120.9 L225 120.8 L226 120.8 L227 120.8 L228 120.8 L229 120.7 L230 120.7 L231 120.7 L232 120.8 L233 120.8 L234 120.9 L235 120.9 L236 121.0 L237 121.1 L238 121.1 L239 121.2 L240 121.2 L241 121.3 L242 121.3 L243 121.4 L244 121.5 L245 121.5 L246 121.6 L247 121.6 L248 121.7 L249 121.7 L250 121.8 L251 121.8 L252 121.9 L253 121.9 L254 122.0 L255 122.0 L256 122.1 L257 122.1 L258 122.2 L259 122.2 L260 122.3 L261 122.4 L262 122.4 L263 122.5 L264 122.5 L265 122.6 L266 122.7 L267 122.7 L268 122.8 L269 122.9 L270 123.0 L271 123.1 L272 123.2 L273 123.3 L274 123.5 L275 123.6 L276 123.8 L277 124.0 L278 124.2 L279 124.4 L280 124.7 L281 125.0 L282 125.4 L283 125.8 L284 126.3 L285 126.8 L286 127.3 L287 127.9 L288 128.4 L289 128.9 L290 129.4 L291 129.8 L292 130.3 L293 130.5 L294 129.4 L295 125.2 L296 118.6 L297 112.5 L298 109.5 L299 110.6 L300 114.0 L301 117.3 L302 119.2 L303 120.2 L304 121.0 L305 121.9 L306 122.8 L307 123.8 L308 124.8 L309 125.8 L310 126.9 L311 128.0 L312 129.2 L313 130.4 L314 131.5 L315 132.7 L316 133.9 L317 135.2 L318 136.5 L319 137.8 L320 138.6 L321 135.9 L322 125.9 L323 113.8 L324 107.8 L325 107.0 L326 107.8 L327 108.7 L328 109.7 L329 110.8 L330 111.9 L331 113.1 L332 114.4 L333 115.7 L334 117.1 L335 118.5 L336 120.1 L337 121.8 L338 123.6 L339 125.5 L340 127.4 L341 129.3 L342 131.2 L343 133.1 L344 134.9 L345 136.6 L346 138.2 L347 139.8 L348 141.2 L349 142.5 L350 143.5 L351 144.4 L352 144.9 L353 143.1 L354 137.1 L355 133.8 L356 139.1 L357 143.0 L358 142.8 L359 141.9 L360 140.9 L361 139.9 L362 138.9 L363 138.0 L364 137.1 L365 136.2 L366 135.3 L367 134.5 L368 133.7 L369 132.9 L370 132.2 L371 131.4 L372 130.7 L373 130.0" stroke-dashoffset="2.05"/>
<path d="M35 90.1 L36 89.8 L37 89.7 L38 90.0 L39 91.6 L40 95.1 L41 99.7 L42 104.8 L43 109.8 L44 114.6 L45 119.4 L46 124.0 L47 128.3 L48 131.3 L49 132.6 L50 133.1 L51 133.6 L52 134.0 L53 134.5 L54 135.0 L55 135.6 L56 136.3 L57 137.0 L58 137.8 L59 138.5 L60 139.3 L61 140.0 L62 140.7 L63 141.3 L64 141.4 L65 140.1 L66 136.4 L67 130.5 L68 122.6 L69 114.3 L70 106.5 L71 99.3 L72 93.7 L73 91.0 L74 91.3 L75 93.5 L76 97.2 L77 101.5 L78 105.8 L79 110.1 L80 114.3 L81 118.1 L82 121.7 L83 125.1 L84 128.5 L85 131.7 L86 134.8 L87 137.8 L88 139.9 L89 139.9 L90 137.3 L91 133.1 L92 127.6 L93 121.4 L94 115.5 L95 109.8 L96 104.3 L97 99.1 L98 94.7 L99 92.3 L100 92.9 L101 94.9 L102 97.2 L103 99.6 L104 102.3 L105 105.3 L106 108.9 L107 114.9 L108 125.1 L109 135.2 L110 139.3 L111 138.6 L112 136.7 L113 134.5 L114 132.4 L115 130.3 L116 128.1 L117 126.0 L118 123.8 L119 121.8 L120 119.8 L121 117.8 L122 115.8 L123 113.8 L124 111.7 L125 109.6 L126 107.5 L127 105.4 L128 103.4 L129 101.7 L130 100.3 L131 99.3 L132 98.4 L133 97.6 L134 96.9 L135 96.3 L136 95.7 L137 95.4 L138 95.6 L139 96.3 L140 97.2 L141 98.1 L142 99.0 L143 99.9 L144 100.8 L145 101.7 L146 102.6 L147 103.5 L148 104.4 L149 105.2 L150 106.0 L151 106.9 L152 107.7 L153 108.5 L154 109.2 L155 109.7 L156 110.3 L157 110.7 L158 111.1 L159 111.5 L160 111.9 L161 112.2 L162 112.5 L163 112.9 L164 113.2 L165 113.6 L166 114.0 L167 114.4 L168 114.9 L169 115.5 L170 116.0 L171 116.6 L172 117.1 L173 117.5 L174 117.9 L175 118.3 L176 118.7 L177 119.0 L178 119.3 L179 119.5 L180 119.7 L181 119.9 L182 120.0 L183 120.1 L184 120.2 L185 120.3 L186 120.4 L187 120.5 L188 120.6 L189 120.7 L190 120.8 L191 120.8 L192 120.9 L193 120.8 L194 120.7 L195 120.6 L196 120.6 L197 120.4 L198 120.3 L199 120.2 L200 120.1 L201 119.9 L202 119.8 L203 119.9 L204 120.3 L205 120.9 L206 121.3 L207 121.6 L208 121.6 L209 121.5 L210 121.5 L211 121.4 L212 121.3 L213 121.2 L214 121.2 L215 121.1 L216 121.0 L217 120.9 L218 120.8 L219 120.7 L220 120.7 L221 120.6 L222 120.5 L223 120.4 L224 120.2 L225 120.1 L226 120.0 L227 119.8 L228 119.7 L229 119.6 L230 119.5 L231 119.4 L232 119.4 L233 119.4 L234 119.3 L235 119.3 L236 119.3 L237 119.3 L238 119.3 L239 119.3 L240 119.3 L241 119.4 L242 119.5 L243 119.5 L244 119.6 L245 119.7 L246 119.8 L247 119.9 L248 119.9 L249 120.0 L250 120.1 L251 120.1 L252 120.2 L253 120.2 L254 120.3 L255 120.3 L256 120.4 L257 120.4 L258 120.4 L259 120.4 L260 120.5 L261 120.5 L262 120.5 L263 120.5 L264 120.5 L265 120.5 L266 120.5 L267 120.6 L268 120.6 L269 120.6 L270 120.7 L271 120.7 L272 120.6 L273 120.5 L274 120.4 L275 120.3 L276 120.2 L277 120.1 L278 119.9 L279 119.7 L280 119.4 L281 119.0 L282 118.6 L283 118.1 L284 117.5 L285 117.0 L286 116.4 L287 115.7 L288 115.1 L289 114.4 L290 113.6 L291 112.9 L292 112.1 L293 111.3 L294 110.5 L295 109.7 L296 109.1 L297 109.1 L298 113.3 L299 121.1 L300 124.0 L301 122.1 L302 119.3 L303 116.6 L304 114.3 L305 112.0 L306 109.7 L307 107.2 L308 105.0 L309 103.4 L310 102.7 L311 102.5 L312 102.4 L313 102.3 L314 102.3 L315 102.3 L316 102.4 L317 102.5 L318 102.6 L319 102.7 L320 102.8 L321 103.0 L322 103.2 L323 103.5 L324 103.8 L325 104.2 L326 104.5 L327 104.8 L328 105.1 L329 105.4 L330 104.9 L331 103.2 L332 100.7 L333 98.4 L334 96.9 L335 95.9 L336 95.1 L337 94.4 L338 94.8 L339 98.7 L340 109.0 L341 121.8 L342 129.8 L343 132.4 L344 133.0 L345 133.3 L346 133.5 L347 133.7 L348 133.9 L349 134.1 L350 134.2 L351 134.3 L352 134.4 L353 134.1 L354 132.7 L355 130.2 L356 127.3 L357 124.6 L358 122.1 L359 119.8 L360 117.5 L361 115.2 L362 113.0 L363 111.0 L364 109.6 L365 108.4 L366 107.3 L367 106.0 L368 104.5 L369 102.8 L370 101.1 L371 99.2 L372 97.8 L373 99.0" stroke-dashoffset="5.93"/>
<path d="M35 140.6 L36 140.7 L37 140.7 L38 139.4 L39 135.9 L40 130.3 L41 123.6 L42 116.4 L43 109.0 L44 101.5 L45 94.6 L46 89.5 L47 87.8 L48 93.2 L49 107.0 L50 122.9 L51 131.9 L52 131.5 L53 126.6 L54 121.4 L55 117.8 L56 116.0 L57 115.1 L58 114.3 L59 113.6 L60 112.8 L61 112.0 L62 111.1 L63 110.3 L64 109.6 L65 108.9 L66 108.3 L67 107.7 L68 107.1 L69 106.6 L70 106.1 L71 105.7 L72 105.2 L73 104.8 L74 104.5 L75 104.1 L76 103.7 L77 103.4 L78 103.1 L79 102.8 L80 102.6 L81 102.3 L82 102.1 L83 101.9 L84 101.7 L85 101.5 L86 101.5 L87 101.5 L88 101.5 L89 101.6 L90 101.7 L91 101.7 L92 101.7 L93 101.6 L94 101.4 L95 101.1 L96 100.7 L97 100.2 L98 99.8 L99 99.4 L100 99.2 L101 99.2 L102 99.3 L103 99.5 L104 99.7 L105 99.9 L106 100.2 L107 100.4 L108 100.7 L109 100.9 L110 101.0 L111 101.2 L112 101.3 L113 101.4 L114 101.5 L115 101.6 L116 101.7 L117 101.8 L118 101.9 L119 101.9 L120 102.0 L121 101.9 L122 101.9 L123 101.7 L124 101.5 L125 101.3 L126 101.0 L127 100.8 L128 100.6 L129 100.5 L130 100.4 L131 100.4 L132 100.5 L133 100.6 L134 100.8 L135 101.0 L136 101.3 L137 101.5 L138 101.8 L139 102.1 L140 102.4 L141 102.7 L142 103.0 L143 103.3 L144 103.7 L145 104.0 L146 104.4 L147 104.8 L148 105.2 L149 105.6 L150 106.1 L151 106.5 L152 107.0 L153 107.5 L154 107.9 L155 108.2 L156 108.5 L157 108.8 L158 109.0 L159 109.2 L160 109.5 L161 109.7 L162 109.9 L163 110.1 L164 110.3 L165 110.6 L166 110.8 L167 111.0 L168 111.3 L169 111.5 L170 111.8 L171 112.1 L172 112.4 L173 112.8 L174 113.2 L175 113.6 L176 114.0 L177 114.3 L178 114.7 L179 115.1 L180 115.5 L181 115.9 L182 116.2 L183 116.6 L184 117.0 L185 117.3 L186 117.6 L187 117.8 L188 117.7 L189 117.5 L190 117.4 L191 117.2 L192 117.1 L193 117.1 L194 117.3 L195 117.4 L196 117.5 L197 117.7 L198 117.8 L199 118.0 L200 118.2 L201 118.4 L202 118.6 L203 118.8 L204 119.0 L205 119.2 L206 119.4 L207 119.6 L208 119.7 L209 119.9 L210 120.1 L211 120.2 L212 120.3 L213 120.3 L214 120.3 L215 120.2 L216 120.1 L217 120.0 L218 119.9 L219 119.8 L220 119.7 L221 119.5 L222 119.3 L223 119.0 L224 119.0 L225 119.1 L226 119.3 L227 119.5 L228 119.6 L229 119.7 L230 119.8 L231 120.0 L232 120.1 L233 120.2 L234 120.3 L235 120.4 L236 120.5 L237 120.6 L238 120.7 L239 120.8 L240 120.9 L241 121.0 L242 121.1 L243 121.2 L244 121.3 L245 121.3 L246 121.4 L247 121.5 L248 121.5 L249 121.6 L250 121.7 L251 121.7 L252 121.7 L253 121.8 L254 121.8 L255 121.8 L256 121.8 L257 121.8 L258 121.8 L259 121.8 L260 121.8 L261 121.8 L262 121.7 L263 121.7 L264 121.7 L265 121.7 L266 121.6 L267 121.6 L268 121.5 L269 121.5 L270 121.4 L271 121.3 L272 121.2 L273 121.1 L274 120.9 L275 120.8 L276 120.6 L277 120.5 L278 120.3 L279 120.1 L280 119.8 L281 119.5 L282 119.2 L283 119.1 L284 119.5 L285 120.4 L286 120.0 L287 117.3 L288 115.1 L289 114.5 L290 114.7 L291 114.9 L292 115.3 L293 115.8 L294 116.4 L295 117.1 L296 117.9 L297 119.0 L298 120.4 L299 121.9 L300 123.4 L301 124.6 L302 125.2 L303 125.2 L304 125.2 L305 125.2 L306 125.2 L307 125.2 L308 125.2 L309 125.2 L310 125.2 L311 125.2 L312 125.3 L313 125.4 L314 125.5 L315 125.6 L316 125.7 L317 125.9 L318 126.1 L319 126.2 L320 126.4 L321 126.6 L322 126.8 L323 127.1 L324 127.3 L325 127.5 L326 127.7 L327 127.9 L328 128.1 L329 128.3 L330 128.6 L331 128.9 L332 129.1 L333 129.4 L334 129.7 L335 129.9 L336 130.2 L337 130.4 L338 130.6 L339 130.7 L340 130.9 L341 130.9 L342 131.0 L343 131.0 L344 131.0 L345 130.9 L346 130.8 L347 130.7 L348 130.6 L349 130.5 L350 130.4 L351 130.3 L352 130.2 L353 130.2 L354 130.1 L355 130.0 L356 130.0 L357 129.9 L358 129.8 L359 129.5 L360 128.4 L361 126.3 L362 123.9 L363 121.5 L364 119.1 L365 116.5 L366 113.7 L367 110.6 L368 107.5 L369 105.1 L370 104.1 L371 104.0 L372 104.3 L373 105.3" stroke-dashoffset="0.54"/>
<path d="M35 77.1 L36 74.8 L37 74.2 L38 74.9 L39 76.0 L40 77.2 L41 78.4 L42 79.5 L43 80.5 L44 81.6 L45 82.6 L46 83.5 L47 84.4 L48 85.2 L49 86.0 L50 86.6 L51 87.2 L52 87.7 L53 88.0 L54 88.3 L55 88.4 L56 88.4 L57 88.4 L58 88.5 L59 88.9 L60 89.9 L61 91.1 L62 92.4 L63 93.9 L64 95.3 L65 96.8 L66 98.3 L67 99.8 L68 101.3 L69 102.9 L70 104.4 L71 105.9 L72 107.5 L73 109.1 L74 110.6 L75 112.2 L76 113.8 L77 115.3 L78 116.7 L79 118.1 L80 119.4 L81 120.7 L82 121.9 L83 123.1 L84 124.3 L85 125.6 L86 127.0 L87 128.6 L88 130.3 L89 132.1 L90 133.6 L91 134.7 L92 135.3 L93 135.8 L94 136.1 L95 136.5 L96 136.7 L97 136.9 L98 137.2 L99 137.3 L100 137.4 L101 137.5 L102 137.5 L103 137.4 L104 137.3 L105 137.0 L106 136.8 L107 136.5 L108 136.3 L109 136.0 L110 135.7 L111 135.4 L112 135.1 L113 134.8 L114 134.5 L115 134.2 L116 133.9 L117 133.6 L118 133.3 L119 132.9 L120 132.6 L121 132.2 L122 131.8 L123 131.4 L124 131.0 L125 130.6 L126 130.1 L127 129.7 L128 129.4 L129 130.7 L130 133.3 L131 134.0 L132 133.1 L133 131.8 L134 130.5 L135 129.3 L136 128.1 L137 126.9 L138 125.7 L139 124.5 L140 123.4 L141 122.2 L142 121.1 L143 120.1 L144 119.0 L145 118.1 L146 117.2 L147 116.4 L148 115.6 L149 115.0 L150 114.5 L151 114.0 L152 113.6 L153 113.2 L154 112.9 L155 112.6 L156 112.4 L157 112.2 L158 112.1 L159 112.0 L160 111.9 L161 111.5 L162 110.6 L163 109.2 L164 108.0 L165 107.5 L166 107.6 L167 108.0 L168 108.4 L169 108.7 L170 109.1 L171 109.5 L172 110.0 L173 110.4 L174 110.8 L175 111.3 L176 112.0 L177 112.9 L178 113.8 L179 114.7 L180 115.7 L181 116.6 L182 117.5 L183 118.3 L184 119.0 L185 119.5 L186 119.8 L187 119.9 L188 120.0 L189 120.1 L190 120.1 L191 120.2 L192 120.2 L193 120.3 L194 120.4 L195 120.4 L196 120.5 L197 120.5 L198 120.6 L199 120.6 L200 120.7 L201 120.7 L202 120.7 L203 120.8 L204 120.8 L205 120.9 L206 120.9 L207 121.0 L208 121.0 L209 121.0 L210 121.1 L211 121.1 L212 121.1 L213 121.2 L214 121.2 L215 121.3 L216 121.3 L217 121.3 L218 121.4 L219 121.4 L220 121.4 L221 121.5 L222 121.5 L223 121.5 L224 121.5 L225 121.5 L226 121.3 L227 121.0 L228 120.6 L229 120.2 L230 119.7 L231 119.4 L232 119.3 L233 119.6 L234 120.3 L235 120.7 L236 120.9 L237 120.9 L238 120.9 L239 120.8 L240 120.8 L241 120.8 L242 120.8 L243 120.8 L244 120.8 L245 120.8 L246 120.8 L247 120.8 L248 120.8 L249 120.8 L250 120.8 L251 120.8 L252 120.8 L253 120.8 L254 120.8 L255 120.8 L256 120.8 L257 120.8 L258 120.7 L259 120.7 L260 120.7 L261 120.6 L262 120.6 L263 120.7 L264 121.0 L265 121.5 L266 122.1 L267 122.7 L268 123.1 L269 123.1 L270 123.0 L271 122.8 L272 122.5 L273 122.0 L274 121.5 L275 120.9 L276 120.5 L277 120.0 L278 119.4 L279 118.6 L280 117.7 L281 116.8 L282 116.3 L283 116.0 L284 115.7 L285 115.4 L286 115.3 L287 115.1 L288 115.1 L289 115.1 L290 115.1 L291 115.3 L292 115.5 L293 115.7 L294 116.1 L295 116.5 L296 117.0 L297 117.6 L298 118.4 L299 119.4 L300 120.5 L301 121.7 L302 122.9 L303 124.2 L304 125.6 L305 127.0 L306 128.3 L307 129.0 L308 128.9 L309 128.3 L310 127.6 L311 126.9 L312 126.1 L313 125.4 L314 124.7 L315 124.0 L316 123.2 L317 122.5 L318 121.7 L319 121.0 L320 120.2 L321 119.8 L322 120.7 L323 123.6 L324 127.5 L325 131.6 L326 135.6 L327 139.1 L328 141.5 L329 141.8 L330 140.6 L331 138.7 L332 136.4 L333 133.7 L334 131.6 L335 130.5 L336 129.9 L337 129.4 L338 128.8 L339 128.2 L340 127.6 L341 126.9 L342 126.1 L343 125.4 L344 124.6 L345 123.9 L346 123.2 L347 122.6 L348 122.1 L349 121.6 L350 121.1 L351 120.7 L352 120.3 L353 119.9 L354 119.5 L355 119.1 L356 118.7 L357 118.3 L358 117.9 L359 117.5 L360 117.2 L361 116.8 L362 116.4 L363 115.9 L364 115.3 L365 114.6 L366 113.7 L367 112.7 L368 111.5 L369 110.2 L370 108.7 L371 107.1 L372 105.6 L373 104.5" stroke-dashoffset="1.32"/>
<path d="M35 126.1 L36 125.2 L37 124.3 L38 123.3 L39 122.3 L40 121.3 L41 120.2 L42 119.2 L43 118.0 L44 116.3 L45 113.7 L46 110.5 L47 108.3 L48 107.2 L49 106.7 L50 106.2 L51 105.8 L52 105.3 L53 104.8 L54 104.3 L55 103.8 L56 103.3 L57 102.9 L58 102.4 L59 102.0 L60 101.7 L61 101.4 L62 101.2 L63 101.1 L64 100.9 L65 100.9 L66 100.8 L67 100.8 L68 100.9 L69 100.9 L70 101.0 L71 101.1 L72 101.2 L73 101.4 L74 101.5 L75 101.7 L76 101.9 L77 102.1 L78 102.3 L79 102.5 L80 102.8 L81 103.0 L82 103.3 L83 103.6 L84 103.8 L85 104.1 L86 104.5 L87 104.9 L88 105.3 L89 105.8 L90 106.2 L91 106.6 L92 106.9 L93 107.1 L94 107.3 L95 107.4 L96 107.7 L97 109.0 L98 111.1 L99 113.7 L100 116.3 L101 119.1 L102 122.0 L103 125.1 L104 128.4 L105 131.5 L106 134.6 L107 137.5 L108 140.0 L109 141.9 L110 143.5 L111 145.0 L112 146.1 L113 146.2 L114 145.1 L115 143.5 L116 141.8 L117 139.9 L118 137.4 L119 134.6 L120 131.7 L121 128.7 L122 125.7 L123 122.7 L124 119.8 L125 117.1 L126 114.4 L127 111.7 L128 108.9 L129 106.3 L130 103.7 L131 101.6 L132 100.1 L133 98.9 L134 97.8 L135 96.9 L136 96.0 L137 95.2 L138 95.1 L139 96.1 L140 97.6 L141 99.2 L142 100.8 L143 102.3 L144 103.9 L145 105.6 L146 107.3 L147 109.1 L148 110.6 L149 112.0 L150 113.3 L151 114.4 L152 115.6 L153 116.8 L154 118.1 L155 119.3 L156 120.4 L157 121.3 L158 121.6 L159 121.5 L160 121.2 L161 121.0 L162 120.7 L163 120.5 L164 120.4 L165 120.3 L166 120.2 L167 120.2 L168 120.2 L169 120.2 L170 120.2 L171 120.2 L172 120.2 L173 120.1 L174 120.1 L175 120.1 L176 120.1 L177 120.1 L178 120.1 L179 120.1 L180 120.1 L181 120.1 L182 120.2 L183 120.2 L184 120.3 L185 120.4 L186 120.6 L187 120.7 L188 120.9 L189 121.0 L190 120.9 L191 120.7 L192 120.6 L193 120.4 L194 120.2 L195 120.0 L196 120.0 L197 119.9 L198 119.9 L199 119.9 L200 119.8 L201 119.8 L202 119.7 L203 119.6 L204 119.5 L205 119.5 L206 119.4 L207 119.3 L208 119.2 L209 119.1 L210 119.1 L211 119.0 L212 118.9 L213 118.9 L214 118.8 L215 118.8 L216 118.7 L217 118.7 L218 118.7 L219 118.7 L220 118.7 L221 118.7 L222 118.8 L223 118.8 L224 118.9 L225 118.9 L226 119.0 L227 119.0 L228 119.1 L229 119.1 L230 119.2 L231 119.2 L232 119.3 L233 119.3 L234 119.4 L235 119.5 L236 119.5 L237 119.6 L238 119.6 L239 119.7 L240 119.8 L241 119.8 L242 119.9 L243 120.0 L244 120.0 L245 120.1 L246 120.1 L247 120.2 L248 120.2 L249 120.3 L250 120.3 L251 120.4 L252 120.4 L253 120.6 L254 121.1 L255 121.8 L256 122.3 L257 122.5 L258 122.6 L259 122.6 L260 122.7 L261 122.7 L262 122.8 L263 122.8 L264 122.9 L265 122.9 L266 123.0 L267 123.1 L268 123.1 L269 123.2 L270 123.3 L271 123.3 L272 123.3 L273 123.3 L274 123.3 L275 123.3 L276 123.2 L277 123.2 L278 123.1 L279 122.8 L280 122.1 L281 121.3 L282 120.4 L283 119.5 L284 118.6 L285 117.5 L286 116.3 L287 115.0 L288 114.0 L289 113.5 L290 113.4 L291 113.5 L292 113.7 L293 113.9 L294 114.2 L295 114.7 L296 115.1 L297 115.7 L298 116.2 L299 116.6 L300 115.4 L301 110.8 L302 105.4 L303 103.0 L304 102.6 L305 102.6 L306 102.6 L307 102.6 L308 102.7 L309 102.8 L310 102.9 L311 103.1 L312 103.4 L313 103.8 L314 104.2 L315 104.6 L316 105.1 L317 105.7 L318 106.2 L319 106.7 L320 107.2 L321 107.7 L322 108.0 L323 108.1 L324 107.9 L325 107.7 L326 107.5 L327 107.2 L328 106.9 L329 106.6 L330 106.3 L331 106.0 L332 105.7 L333 105.3 L334 105.0 L335 104.7 L336 104.4 L337 104.2 L338 104.1 L339 104.0 L340 104.0 L341 104.1 L342 104.3 L343 104.6 L344 104.8 L345 105.0 L346 105.2 L347 105.4 L348 105.7 L349 105.9 L350 106.2 L351 106.5 L352 106.8 L353 107.1 L354 107.3 L355 107.6 L356 107.8 L357 108.0 L358 108.3 L359 108.5 L360 108.7 L361 108.9 L362 108.9 L363 108.9 L364 108.7 L365 108.4 L366 107.9 L367 107.2 L368 106.4 L369 105.5 L370 104.5 L371 103.4 L372 102.5 L373 102.0" stroke-dashoffset="0.54"/>
<path d="M35 125.0 L36 125.1 L37 125.0 L38 124.9 L39 124.8 L40 124.7 L41 124.5 L42 124.4 L43 124.2 L44 124.0 L45 123.7 L46 123.5 L47 123.3 L48 123.0 L49 122.8 L50 122.5 L51 122.3 L52 122.1 L53 122.0 L54 121.8 L55 121.8 L56 121.8 L57 121.9 L58 122.1 L59 122.3 L60 122.5 L61 122.8 L62 123.0 L63 123.3 L64 123.5 L65 123.7 L66 123.9 L67 124.0 L68 124.1 L69 124.1 L70 124.1 L71 123.8 L72 121.4 L73 114.5 L74 113.3 L75 126.6 L76 132.6 L77 127.3 L78 118.7 L79 109.7 L80 101.3 L81 94.8 L82 91.0 L83 89.7 L84 90.8 L85 93.7 L86 98.8 L87 108.4 L88 121.6 L89 134.5 L90 143.4 L91 146.6 L92 146.7 L93 145.9 L94 145.2 L95 144.5 L96 143.9 L97 143.3 L98 142.6 L99 142.0 L100 141.1 L101 139.9 L102 138.1 L103 135.8 L104 133.5 L105 131.1 L106 128.8 L107 126.5 L108 124.4 L109 122.3 L110 120.3 L111 118.3 L112 116.3 L113 114.3 L114 112.3 L115 110.3 L116 108.7 L117 108.2 L118 108.8 L119 109.8 L120 110.7 L121 110.8 L122 109.2 L123 106.6 L124 103.9 L125 101.6 L126 100.3 L127 100.6 L128 101.8 L129 103.4 L130 105.4 L131 107.4 L132 109.5 L133 111.6 L134 113.5 L135 115.4 L136 117.3 L137 119.1 L138 121.1 L139 123.0 L140 124.8 L141 126.5 L142 127.9 L143 129.1 L144 129.8 L145 129.9 L146 129.6 L147 129.3 L148 128.6 L149 127.5 L150 126.2 L151 125.1 L152 124.0 L153 123.0 L154 121.7 L155 120.4 L156 119.2 L157 118.0 L158 116.9 L159 115.9 L160 115.0 L161 114.2 L162 113.7 L163 113.4 L164 113.2 L165 113.0 L166 112.9 L167 112.8 L168 112.7 L169 112.6 L170 112.6 L171 112.5 L172 112.5 L173 112.4 L174 112.4 L175 112.4 L176 112.4 L177 112.5 L178 112.6 L179 112.7 L180 112.8 L181 113.1 L182 113.6 L183 114.4 L184 115.6 L185 117.0 L186 118.4 L187 119.5 L188 120.3 L189 120.7 L190 120.8 L191 120.8 L192 120.7 L193 120.7 L194 120.6 L195 120.7 L196 120.8 L197 121.0 L198 121.2 L199 121.4 L200 121.6 L201 121.7 L202 121.7 L203 121.6 L204 121.6 L205 121.6 L206 121.6 L207 121.5 L208 121.5 L209 121.5 L210 121.4 L211 121.4 L212 121.4 L213 121.3 L214 121.3 L215 121.3 L216 121.2 L217 121.2 L218 121.2 L219 121.1 L220 121.1 L221 121.1 L222 121.0 L223 121.0 L224 121.0 L225 120.9 L226 120.9 L227 120.9 L228 120.8 L229 120.8 L230 120.8 L231 120.7 L232 120.7 L233 120.6 L234 120.6 L235 120.5 L236 120.5 L237 120.4 L238 120.4 L239 120.3 L240 120.3 L241 120.3 L242 120.2 L243 120.2 L244 120.2 L245 120.2 L246 120.2 L247 120.2 L248 120.2 L249 120.2 L250 120.2 L251 120.3 L252 120.3 L253 120.3 L254 120.3 L255 120.3 L256 120.3 L257 120.3 L258 120.3 L259 120.3 L260 120.3 L261 120.3 L262 120.2 L263 120.2 L264 120.1 L265 120.1 L266 120.0 L267 119.9 L268 119.8 L269 119.7 L270 119.6 L271 119.5 L272 119.3 L273 119.2 L274 119.0 L275 118.7 L276 118.5 L277 118.2 L278 117.9 L279 117.6 L280 117.1 L281 116.5 L282 115.9 L283 115.2 L284 114.5 L285 113.8 L286 113.2 L287 112.6 L288 111.9 L289 111.3 L290 110.6 L291 110.0 L292 109.3 L293 108.7 L294 108.1 L295 107.4 L296 106.8 L297 106.2 L298 105.6 L299 105.0 L300 104.4 L301 103.8 L302 103.1 L303 102.5 L304 101.9 L305 101.4 L306 101.0 L307 100.5 L308 100.1 L309 99.7 L310 99.4 L311 99.0 L312 98.7 L313 98.4 L314 98.0 L315 97.7 L316 97.4 L317 97.1 L318 96.8 L319 96.6 L320 96.3 L321 96.0 L322 95.8 L323 95.5 L324 95.3 L325 95.1 L326 94.9 L327 94.6 L328 94.4 L329 94.2 L330 93.9 L331 93.8 L332 93.6 L333 93.4 L334 93.3 L335 93.2 L336 93.2 L337 93.1 L338 93.1 L339 93.2 L340 93.3 L341 93.4 L342 93.6 L343 93.8 L344 94.0 L345 94.3 L346 94.5 L347 94.8 L348 95.0 L349 95.3 L350 95.6 L351 95.9 L352 96.3 L353 96.6 L354 97.0 L355 97.3 L356 97.6 L357 97.9 L358 98.1 L359 98.4 L360 98.6 L361 98.7 L362 98.7 L363 98.4 L364 97.8 L365 96.8 L366 95.6 L367 94.2 L368 92.8 L369 91.5 L370 90.3 L371 89.7 L372 89.9 L373 90.9" stroke-dashoffset="4.56"/>
<path d="M35 140.9 L36 138.0 L37 135.1 L38 132.1 L39 128.9 L40 125.6 L41 122.1 L42 118.5 L43 114.9 L44 111.2 L45 107.4 L46 103.6 L47 99.8 L48 96.1 L49 92.8 L50 90.4 L51 88.7 L52 87.8 L53 88.1 L54 88.9 L55 89.9 L56 91.5 L57 93.9 L58 96.7 L59 99.6 L60 102.7 L61 105.8 L62 109.0 L63 112.4 L64 116.0 L65 119.7 L66 123.5 L67 127.2 L68 130.6 L69 133.6 L70 135.6 L71 137.0 L72 137.9 L73 138.2 L74 138.2 L75 138.3 L76 138.3 L77 138.3 L78 138.3 L79 138.4 L80 138.6 L81 138.8 L82 139.2 L83 139.6 L84 140.2 L85 140.8 L86 141.4 L87 142.1 L88 142.9 L89 143.5 L90 144.0 L91 144.0 L92 143.5 L93 143.0 L94 142.5 L95 142.1 L96 141.6 L97 141.2 L98 140.7 L99 140.0 L100 139.0 L101 137.4 L102 135.6 L103 133.7 L104 131.8 L105 129.9 L106 128.0 L107 126.1 L108 124.3 L109 122.6 L110 120.9 L111 119.3 L112 117.6 L113 115.9 L114 114.2 L115 112.5 L116 110.8 L117 109.1 L118 107.5 L119 105.8 L120 104.2 L121 102.8 L122 101.4 L123 100.0 L124 99.0 L125 98.7 L126 99.0 L127 99.3 L128 99.7 L129 100.1 L130 100.5 L131 101.0 L132 101.7 L133 102.9 L134 105.1 L135 108.2 L136 111.4 L137 114.5 L138 117.6 L139 120.9 L140 124.2 L141 127.2 L142 129.7 L143 131.1 L144 131.6 L145 131.0 L146 129.6 L147 127.9 L148 126.3 L149 124.5 L150 122.7 L151 121.1 L152 119.6 L153 118.2 L154 116.9 L155 115.7 L156 114.6 L157 113.7 L158 113.1 L159 112.7 L160 112.4 L161 112.1 L162 111.8 L163 111.6 L164 111.5 L165 111.4 L166 111.2 L167 111.1 L168 111.0 L169 110.9 L170 110.8 L171 110.8 L172 110.8 L173 110.8 L174 110.9 L175 111.1 L176 111.6 L177 112.6 L178 113.6 L179 114.8 L180 115.9 L181 117.0 L182 118.0 L183 118.9 L184 119.6 L185 120.1 L186 120.2 L187 120.2 L188 120.2 L189 120.1 L190 120.1 L191 120.0 L192 119.9 L193 119.9 L194 119.8 L195 119.8 L196 119.7 L197 119.6 L198 119.5 L199 119.4 L200 119.3 L201 119.1 L202 119.0 L203 118.9 L204 118.8 L205 118.7 L206 118.5 L207 118.4 L208 118.4 L209 118.4 L210 118.6 L211 118.8 L212 119.1 L213 119.4 L214 119.6 L215 119.9 L216 120.1 L217 120.3 L218 120.5 L219 120.7 L220 120.8 L221 121.0 L222 121.1 L223 121.3 L224 121.4 L225 121.6 L226 121.7 L227 121.8 L228 121.9 L229 122.0 L230 122.0 L231 121.9 L232 121.7 L233 121.5 L234 121.4 L235 121.2 L236 121.0 L237 120.8 L238 120.5 L239 120.3 L240 120.1 L241 119.9 L242 119.9 L243 119.8 L244 119.9 L245 120.1 L246 120.2 L247 120.3 L248 120.5 L249 120.7 L250 120.9 L251 121.1 L252 121.3 L253 121.4 L254 121.6 L255 121.7 L256 121.8 L257 122.0 L258 122.1 L259 122.3 L260 122.4 L261 122.5 L262 122.7 L263 122.8 L264 122.8 L265 122.7 L266 122.3 L267 122.0 L268 122.1 L269 122.8 L270 123.0 L271 122.7 L272 122.2 L273 121.4 L274 120.9 L275 120.5 L276 120.2 L277 119.9 L278 119.5 L279 119.1 L280 118.5 L281 117.8 L282 117.0 L283 116.1 L284 115.3 L285 114.8 L286 115.0 L287 115.6 L288 116.4 L289 117.5 L290 119.0 L291 121.0 L292 123.4 L293 126.1 L294 128.8 L295 131.7 L296 134.2 L297 135.6 L298 136.3 L299 136.7 L300 137.0 L301 137.2 L302 137.3 L303 137.4 L304 137.4 L305 137.4 L306 137.4 L307 137.4 L308 137.4 L309 137.4 L310 137.4 L311 137.4 L312 137.5 L313 137.6 L314 137.7 L315 137.8 L316 137.9 L317 138.1 L318 138.2 L319 138.4 L320 138.6 L321 138.8 L322 139.0 L323 139.2 L324 139.4 L325 139.6 L326 139.8 L327 140.0 L328 140.1 L329 139.7 L330 134.6 L331 120.6 L332 105.2 L333 98.6 L334 97.9 L335 98.4 L336 98.9 L337 99.6 L338 100.4 L339 101.4 L340 102.4 L341 103.5 L342 104.7 L343 105.9 L344 107.1 L345 108.2 L346 109.4 L347 110.7 L348 112.7 L349 115.4 L350 118.5 L351 121.5 L352 124.6 L353 127.7 L354 130.9 L355 133.9 L356 136.8 L357 139.4 L358 140.7 L359 139.6 L360 136.8 L361 133.4 L362 130.1 L363 126.9 L364 123.8 L365 120.7 L366 117.6 L367 115.2 L368 114.5 L369 114.9 L370 115.4 L371 116.1 L372 116.9 L373 117.9" stroke-dashoffset="1.88"/>
<path d="M35 121.0 L36 122.1 L37 123.2 L38 124.3 L39 125.5 L40 126.6 L41 127.8 L42 128.9 L43 130.1 L44 131.1 L45 131.9 L46 132.7 L47 133.5 L48 134.3 L49 135.1 L50 136.0 L51 136.7 L52 136.8 L53 136.0 L54 134.9 L55 133.7 L56 132.6 L57 131.6 L58 130.6 L59 129.5 L60 128.2 L61 126.8 L62 125.3 L63 123.7 L64 122.0 L65 120.3 L66 118.5 L67 116.7 L68 114.9 L69 113.2 L70 111.6 L71 110.1 L72 108.8 L73 107.5 L74 106.2 L75 105.0 L76 103.8 L77 102.6 L78 101.5 L79 100.3 L80 99.3 L81 98.2 L82 97.2 L83 96.4 L84 95.8 L85 95.6 L86 95.4 L87 95.3 L88 95.2 L89 95.1 L90 94.8 L91 94.4 L92 93.9 L93 93.3 L94 92.7 L95 91.9 L96 91.2 L97 91.3 L98 94.2 L99 101.0 L100 110.7 L101 121.8 L102 133.0 L103 140.8 L104 143.2 L105 142.8 L106 141.7 L107 140.4 L108 138.8 L109 136.9 L110 135.0 L111 133.2 L112 131.4 L113 129.5 L114 127.7 L115 125.9 L116 124.1 L117 122.3 L118 120.6 L119 118.9 L120 117.2 L121 116.0 L122 116.0 L123 117.8 L124 121.8 L125 129.1 L126 137.7 L127 143.7 L128 146.1 L129 145.0 L130 140.0 L131 130.3 L132 117.3 L133 105.5 L134 98.5 L135 96.7 L136 97.3 L137 98.2 L138 99.2 L139 100.1 L140 101.1 L141 102.0 L142 102.8 L143 103.8 L144 104.8 L145 105.8 L146 106.9 L147 107.9 L148 108.8 L149 109.6 L150 110.4 L151 111.1 L152 111.7 L153 112.2 L154 112.6 L155 113.0 L156 113.3 L157 113.6 L158 114.0 L159 114.4 L160 114.3 L161 113.1 L162 111.5 L163 110.2 L164 109.7 L165 110.1 L166 110.8 L167 111.6 L168 112.3 L169 113.0 L170 113.7 L171 114.3 L172 115.0 L173 115.8 L174 116.6 L175 117.5 L176 118.2 L177 118.9 L178 119.5 L179 119.8 L180 120.0 L181 120.2 L182 120.3 L183 120.5 L184 120.6 L185 120.7 L186 120.7 L187 120.5 L188 120.3 L189 120.0 L190 119.7 L191 119.3 L192 118.8 L193 118.5 L194 118.3 L195 118.3 L196 118.3 L197 118.4 L198 118.4 L199 118.4 L200 118.4 L201 118.4 L202 118.4 L203 118.4 L204 118.5 L205 118.5 L206 118.5 L207 118.5 L208 118.5 L209 118.5 L210 118.6 L211 118.6 L212 118.6 L213 118.6 L214 118.7 L215 118.7 L216 118.7 L217 118.8 L218 118.8 L219 118.8 L220 118.9 L221 118.9 L222 118.9 L223 119.0 L224 119.0 L225 119.0 L226 119.1 L227 119.1 L228 119.1 L229 119.1 L230 119.2 L231 119.2 L232 119.3 L233 119.3 L234 119.3 L235 119.4 L236 119.4 L237 119.5 L238 119.5 L239 119.6 L240 119.6 L241 119.7 L242 119.7 L243 119.8 L244 119.8 L245 119.9 L246 119.9 L247 120.0 L248 120.0 L249 120.0 L250 120.1 L251 120.1 L252 120.1 L253 120.2 L254 120.2 L255 120.2 L256 120.2 L257 120.3 L258 120.3 L259 120.3 L260 120.3 L261 120.2 L262 120.2 L263 120.1 L264 120.1 L265 120.0 L266 119.9 L267 119.9 L268 119.8 L269 119.7 L270 119.5 L271 119.4 L272 119.3 L273 119.1 L274 118.9 L275 118.9 L276 119.2 L277 119.9 L278 121.0 L279 122.5 L280 124.1 L281 125.1 L282 124.9 L283 123.7 L284 121.8 L285 120.5 L286 120.9 L287 121.6 L288 120.4 L289 117.7 L290 115.1 L291 114.0 L292 115.3 L293 118.2 L294 122.1 L295 126.7 L296 131.3 L297 135.0 L298 136.7 L299 137.3 L300 137.6 L301 137.9 L302 138.0 L303 138.1 L304 138.2 L305 138.2 L306 138.2 L307 138.2 L308 138.2 L309 138.3 L310 138.3 L311 138.3 L312 138.4 L313 138.5 L314 138.6 L315 138.8 L316 138.9 L317 139.1 L318 139.3 L319 139.5 L320 139.7 L321 140.0 L322 140.2 L323 140.4 L324 140.6 L325 140.8 L326 141.1 L327 141.3 L328 141.5 L329 141.8 L330 142.1 L331 142.5 L332 142.9 L333 143.2 L334 143.3 L335 143.1 L336 142.6 L337 142.1 L338 141.3 L339 140.3 L340 138.9 L341 137.5 L342 136.0 L343 134.5 L344 132.9 L345 131.2 L346 129.7 L347 128.1 L348 126.6 L349 125.2 L350 123.9 L351 122.7 L352 121.6 L353 120.6 L354 119.7 L355 118.7 L356 117.8 L357 116.9 L358 116.0 L359 115.1 L360 114.3 L361 113.4 L362 112.5 L363 111.5 L364 110.4 L365 109.1 L366 107.6 L367 106.1 L368 104.4 L369 102.5 L370 100.7 L371 99.6 L372 99.8 L373 101.1" stroke-dashoffset="5.76"/>
<path d="M35 92.9 L36 92.0 L37 91.1 L38 90.3 L39 90.2 L40 91.3 L41 93.1 L42 95.2 L43 97.6 L44 100.1 L45 102.6 L46 105.0 L47 107.4 L48 109.8 L49 112.2 L50 114.5 L51 116.8 L52 119.1 L53 121.3 L54 122.8 L55 123.7 L56 124.5 L57 125.4 L58 126.4 L59 127.4 L60 128.6 L61 129.7 L62 131.0 L63 132.1 L64 133.2 L65 134.0 L66 134.7 L67 135.2 L68 135.6 L69 135.9 L70 136.2 L71 136.4 L72 136.4 L73 136.0 L74 135.2 L75 134.1 L76 133.0 L77 131.7 L78 130.2 L79 128.1 L80 124.9 L81 121.1 L82 117.2 L83 113.5 L84 110.7 L85 109.2 L86 108.4 L87 107.8 L88 107.3 L89 106.8 L90 106.3 L91 105.8 L92 105.3 L93 104.7 L94 104.1 L95 103.5 L96 103.3 L97 103.4 L98 103.7 L99 104.0 L100 104.3 L101 104.6 L102 105.0 L103 105.4 L104 105.8 L105 106.3 L106 106.8 L107 107.3 L108 107.8 L109 108.2 L110 108.6 L111 108.9 L112 109.2 L113 109.5 L114 109.8 L115 110.1 L116 110.4 L117 110.6 L118 110.8 L119 111.0 L120 111.2 L121 111.3 L122 111.3 L123 111.3 L124 111.3 L125 111.3 L126 111.2 L127 111.1 L128 111.1 L129 111.1 L130 111.1 L131 111.2 L132 111.3 L133 111.4 L134 111.6 L135 111.7 L136 111.8 L137 112.0 L138 112.9 L139 118.2 L140 128.6 L141 135.4 L142 136.1 L143 134.5 L144 132.7 L145 130.9 L146 129.2 L147 127.3 L148 125.2 L149 123.0 L150 121.0 L151 119.0 L152 117.3 L153 115.7 L154 114.4 L155 113.3 L156 112.6 L157 112.0 L158 111.4 L159 111.0 L160 110.6 L161 110.3 L162 110.0 L163 109.7 L164 109.4 L165 109.2 L166 109.2 L167 109.4 L168 109.6 L169 109.8 L170 110.1 L171 110.3 L172 110.6 L173 110.9 L174 111.2 L175 111.5 L176 111.8 L177 112.0 L178 112.3 L179 112.7 L180 113.0 L181 113.3 L182 113.7 L183 114.1 L184 114.5 L185 114.9 L186 115.3 L187 115.7 L188 116.1 L189 116.6 L190 117.1 L191 117.6 L192 118.1 L193 118.7 L194 119.3 L195 119.7 L196 120.1 L197 120.4 L198 120.7 L199 121.0 L200 121.2 L201 121.4 L202 121.5 L203 121.5 L204 121.5 L205 121.5 L206 121.6 L207 121.6 L208 121.6 L209 121.6 L210 121.6 L211 121.6 L212 121.6 L213 121.6 L214 121.6 L215 121.6 L216 121.6 L217 121.6 L218 121.6 L219 121.6 L220 121.6 L221 121.6 L222 121.6 L223 121.6 L224 121.7 L225 121.8 L226 121.8 L227 121.8 L228 121.6 L229 120.7 L230 119.5 L231 119.0 L232 119.2 L233 120.2 L234 121.5 L235 122.0 L236 121.8 L237 121.7 L238 121.8 L239 121.8 L240 121.9 L241 121.9 L242 122.0 L243 122.1 L244 122.1 L245 122.2 L246 122.2 L247 122.2 L248 122.2 L249 122.2 L250 122.1 L251 122.0 L252 122.0 L253 121.9 L254 121.9 L255 121.8 L256 121.7 L257 121.7 L258 121.6 L259 121.6 L260 121.6 L261 121.5 L262 121.5 L263 121.4 L264 121.4 L265 121.3 L266 121.2 L267 121.2 L268 121.1 L269 121.0 L270 121.0 L271 120.9 L272 120.7 L273 120.6 L274 120.4 L275 120.2 L276 120.0 L277 119.7 L278 119.4 L279 119.0 L280 118.6 L281 118.0 L282 117.4 L283 116.6 L284 115.9 L285 115.2 L286 114.4 L287 113.6 L288 112.8 L289 112.0 L290 111.2 L291 110.4 L292 109.5 L293 108.7 L294 107.9 L295 107.4 L296 107.5 L297 108.1 L298 108.9 L299 110.0 L300 111.2 L301 112.4 L302 113.7 L303 115.2 L304 117.1 L305 119.4 L306 122.2 L307 125.0 L308 127.9 L309 130.7 L310 133.5 L311 136.3 L312 139.1 L313 141.2 L314 141.9 L315 141.7 L316 141.3 L317 140.8 L318 140.4 L319 140.3 L320 140.3 L321 140.4 L322 140.5 L323 140.6 L324 140.7 L325 140.8 L326 140.9 L327 141.0 L328 141.1 L329 141.2 L330 141.4 L331 141.6 L332 141.9 L333 142.1 L334 142.4 L335 142.6 L336 142.8 L337 143.0 L338 143.1 L339 143.2 L340 143.2 L341 143.0 L342 142.6 L343 142.0 L344 141.4 L345 140.7 L346 140.0 L347 139.2 L348 138.5 L349 137.7 L350 137.0 L351 136.3 L352 135.6 L353 135.0 L354 134.4 L355 133.8 L356 133.3 L357 132.7 L358 132.2 L359 131.7 L360 131.3 L361 130.8 L362 130.3 L363 129.9 L364 129.5 L365 129.1 L366 128.7 L367 128.2 L368 127.7 L369 126.9 L370 126.0 L371 124.9 L372 123.7 L373 122.3" stroke-dashoffset="5.72"/>
<path d="M35 118.2 L36 120.5 L37 122.6 L38 124.8 L39 127.0 L40 129.3 L41 131.4 L42 133.1 L43 134.4 L44 135.2 L45 135.6 L46 136.0 L47 136.5 L48 137.0 L49 137.6 L50 138.2 L51 138.8 L52 139.4 L53 140.1 L54 140.8 L55 141.6 L56 142.4 L57 143.1 L58 143.9 L59 144.6 L60 145.4 L61 146.0 L62 146.7 L63 147.3 L64 147.8 L65 148.1 L66 147.5 L67 145.5 L68 142.6 L69 139.5 L70 135.5 L71 128.0 L72 115.6 L73 104.3 L74 106.6 L75 123.7 L76 133.5 L77 133.9 L78 132.7 L79 131.2 L80 129.5 L81 127.2 L82 121.5 L83 109.9 L84 99.4 L85 96.1 L86 97.2 L87 99.5 L88 102.0 L89 104.5 L90 107.0 L91 109.3 L92 111.5 L93 113.6 L94 115.6 L95 117.7 L96 119.8 L97 122.1 L98 124.6 L99 127.2 L100 129.8 L101 132.2 L102 133.5 L103 132.8 L104 130.9 L105 129.0 L106 127.0 L107 125.0 L108 123.2 L109 121.4 L110 119.8 L111 118.0 L112 116.3 L113 114.5 L114 112.8 L115 111.0 L116 109.2 L117 107.5 L118 105.8 L119 104.1 L120 102.7 L121 101.3 L122 99.8 L123 98.4 L124 97.1 L125 95.8 L126 94.7 L127 94.1 L128 93.9 L129 93.8 L130 93.8 L131 93.9 L132 94.0 L133 94.2 L134 94.4 L135 94.7 L136 95.4 L137 96.9 L138 98.8 L139 100.7 L140 102.7 L141 105.0 L142 107.4 L143 109.8 L144 112.0 L145 114.0 L146 116.0 L147 118.0 L148 119.9 L149 121.6 L150 123.1 L151 123.9 L152 123.9 L153 123.2 L154 122.4 L155 121.5 L156 120.6 L157 119.8 L158 119.0 L159 118.3 L160 117.6 L161 117.0 L162 116.5 L163 116.0 L164 115.6 L165 115.3 L166 115.0 L167 114.8 L168 114.7 L169 114.7 L170 114.7 L171 114.7 L172 114.8 L173 114.9 L174 114.9 L175 115.0 L176 115.1 L177 115.2 L178 115.3 L179 115.3 L180 115.4 L181 115.5 L182 115.6 L183 115.8 L184 115.9 L185 116.1 L186 116.3 L187 116.6 L188 117.0 L189 118.0 L190 119.2 L191 120.1 L192 120.6 L193 120.7 L194 120.8 L195 120.8 L196 120.9 L197 121.0 L198 121.0 L199 121.1 L200 121.2 L201 121.2 L202 121.3 L203 121.4 L204 121.4 L205 121.5 L206 121.5 L207 121.6 L208 121.6 L209 121.6 L210 121.6 L211 121.6 L212 121.6 L213 121.6 L214 121.6 L215 121.6 L216 121.6 L217 121.6 L218 121.6 L219 121.6 L220 121.6 L221 121.6 L222 121.7 L223 121.7 L224 121.7 L225 121.7 L226 121.7 L227 121.7 L228 121.7 L229 121.7 L230 121.7 L231 121.7 L232 121.7 L233 121.7 L234 121.7 L235 121.7 L236 121.7 L237 121.7 L238 121.7 L239 121.7 L240 121.7 L241 121.8 L242 121.8 L243 121.8 L244 121.8 L245 121.8 L246 121.8 L247 121.8 L248 121.8 L249 121.8 L250 121.8 L251 121.8 L252 121.8 L253 121.8 L254 121.8 L255 121.9 L256 121.9 L257 121.9 L258 121.9 L259 121.9 L260 121.9 L261 121.9 L262 121.9 L263 121.9 L264 121.9 L265 121.8 L266 121.8 L267 121.8 L268 121.7 L269 121.7 L270 121.6 L271 121.5 L272 121.4 L273 121.3 L274 121.1 L275 121.0 L276 120.8 L277 120.6 L278 120.5 L279 120.3 L280 120.0 L281 119.8 L282 119.5 L283 119.2 L284 118.9 L285 118.5 L286 118.1 L287 117.7 L288 117.3 L289 116.9 L290 116.4 L291 115.9 L292 115.5 L293 114.9 L294 114.3 L295 113.5 L296 112.5 L297 111.4 L298 110.3 L299 109.1 L300 107.9 L301 106.6 L302 105.2 L303 103.8 L304 102.5 L305 101.8 L306 102.4 L307 104.3 L308 107.1 L309 110.4 L310 114.1 L311 118.4 L312 123.6 L313 129.0 L314 134.0 L315 137.6 L316 138.5 L317 137.8 L318 136.7 L319 135.5 L320 134.4 L321 133.1 L322 131.6 L323 130.0 L324 128.3 L325 126.4 L326 124.6 L327 122.6 L328 120.7 L329 118.7 L330 116.8 L331 114.8 L332 112.8 L333 110.6 L334 108.3 L335 106.0 L336 103.6 L337 101.5 L338 100.2 L339 100.2 L340 101.0 L341 101.9 L342 103.0 L343 104.0 L344 105.0 L345 106.0 L346 107.0 L347 108.0 L348 109.0 L349 110.0 L350 110.9 L351 111.9 L352 112.9 L353 113.8 L354 114.6 L355 115.5 L356 116.3 L357 117.1 L358 117.9 L359 118.7 L360 119.4 L361 120.1 L362 120.8 L363 121.4 L364 122.0 L365 122.6 L366 123.1 L367 123.7 L368 124.3 L369 124.9 L370 125.5 L371 126.2 L372 126.9 L373 127.4" stroke-dashoffset="5.99"/>
<path d="M35 79.6 L36 79.2 L37 78.8 L38 78.6 L39 78.4 L40 78.2 L41 78.0 L42 77.9 L43 77.9 L44 77.8 L45 77.8 L46 77.9 L47 78.1 L48 79.3 L49 82.1 L50 85.9 L51 90.2 L52 95.5 L53 102.2 L54 109.6 L55 117.3 L56 124.6 L57 130.0 L58 131.0 L59 128.3 L60 123.6 L61 118.3 L62 112.5 L63 106.7 L64 101.1 L65 95.8 L66 91.4 L67 88.9 L68 87.8 L69 87.1 L70 86.5 L71 86.2 L72 86.2 L73 86.3 L74 86.4 L75 86.6 L76 86.7 L77 86.8 L78 86.9 L79 87.0 L80 87.2 L81 87.4 L82 87.8 L83 88.3 L84 88.8 L85 89.3 L86 89.9 L87 90.6 L88 91.3 L89 92.2 L90 93.0 L91 93.9 L92 94.9 L93 95.8 L94 96.6 L95 97.4 L96 98.1 L97 98.7 L98 99.4 L99 100.1 L100 100.7 L101 101.3 L102 102.1 L103 103.0 L104 104.0 L105 105.0 L106 106.1 L107 107.1 L108 108.2 L109 109.1 L110 110.1 L111 111.0 L112 111.8 L113 112.7 L114 113.5 L115 114.3 L116 115.1 L117 115.8 L118 116.5 L119 117.2 L120 117.8 L121 118.4 L122 119.0 L123 119.5 L124 120.0 L125 120.5 L126 121.0 L127 121.6 L128 122.3 L129 122.9 L130 123.5 L131 124.1 L132 124.7 L133 125.2 L134 125.7 L135 126.2 L136 126.7 L137 127.1 L138 127.4 L139 127.7 L140 127.9 L141 128.1 L142 128.1 L143 127.6 L144 126.4 L145 124.6 L146 122.7 L147 120.8 L148 119.2 L149 117.7 L150 116.3 L151 115.1 L152 114.1 L153 113.3 L154 112.7 L155 112.1 L156 111.7 L157 111.3 L158 111.0 L159 110.7 L160 110.5 L161 110.4 L162 110.2 L163 110.1 L164 109.9 L165 109.8 L166 109.7 L167 109.6 L168 109.6 L169 109.5 L170 109.5 L171 109.6 L172 109.8 L173 110.4 L174 111.1 L175 111.9 L176 112.6 L177 113.3 L178 113.9 L179 114.5 L180 115.2 L181 115.8 L182 116.5 L183 117.1 L184 117.7 L185 118.3 L186 118.7 L187 119.1 L188 119.4 L189 119.7 L190 119.8 L191 119.9 L192 120.0 L193 120.0 L194 120.1 L195 120.1 L196 120.2 L197 120.2 L198 120.3 L199 120.3 L200 120.4 L201 120.4 L202 120.4 L203 120.5 L204 120.5 L205 120.6 L206 120.6 L207 120.6 L208 120.7 L209 120.7 L210 120.7 L211 120.8 L212 120.8 L213 120.8 L214 120.9 L215 120.9 L216 120.9 L217 121.0 L218 121.0 L219 121.0 L220 121.1 L221 121.1 L222 121.1 L223 121.1 L224 121.2 L225 121.2 L226 121.2 L227 120.9 L228 120.2 L229 119.5 L230 119.3 L231 119.4 L232 119.5 L233 119.6 L234 119.8 L235 120.0 L236 120.1 L237 120.3 L238 120.5 L239 120.6 L240 120.8 L241 120.9 L242 121.0 L243 121.2 L244 121.3 L245 121.3 L246 121.4 L247 121.4 L248 121.4 L249 121.5 L250 121.5 L251 121.5 L252 121.5 L253 121.6 L254 121.6 L255 121.6 L256 121.7 L257 121.7 L258 121.7 L259 121.7 L260 121.8 L261 121.8 L262 121.8 L263 121.8 L264 121.8 L265 121.8 L266 121.9 L267 121.9 L268 121.9 L269 121.9 L270 122.0 L271 122.0 L272 122.1 L273 122.2 L274 122.3 L275 122.3 L276 122.3 L277 122.3 L278 122.2 L279 122.2 L280 122.2 L281 122.2 L282 122.1 L283 122.1 L284 122.1 L285 122.1 L286 122.1 L287 122.1 L288 122.1 L289 122.1 L290 122.2 L291 122.5 L292 123.0 L293 123.4 L294 123.9 L295 124.5 L296 125.0 L297 125.6 L298 126.3 L299 126.9 L300 127.6 L301 128.3 L302 129.0 L303 129.7 L304 130.4 L305 131.1 L306 131.8 L307 132.5 L308 133.2 L309 134.0 L310 134.7 L311 135.6 L312 136.4 L313 137.3 L314 138.2 L315 139.2 L316 140.2 L317 141.0 L318 141.7 L319 142.3 L320 143.0 L321 143.6 L322 144.2 L323 144.9 L324 145.5 L325 146.2 L326 146.8 L327 147.5 L328 148.1 L329 148.9 L330 149.7 L331 150.5 L332 151.3 L333 152.2 L334 153.0 L335 153.9 L336 154.7 L337 155.5 L338 156.2 L339 156.8 L340 157.4 L341 157.9 L342 158.3 L343 158.6 L344 158.8 L345 158.9 L346 159.0 L347 159.0 L348 159.0 L349 158.6 L350 156.1 L351 148.9 L352 137.6 L353 124.8 L354 113.9 L355 107.8 L356 106.9 L357 108.7 L358 110.9 L359 113.2 L360 115.3 L361 117.2 L362 118.4 L363 118.5 L364 118.0 L365 117.3 L366 116.5 L367 115.5 L368 114.5 L369 113.3 L370 111.9 L371 110.4 L372 109.0 L373 107.8" stroke-dashoffset="1.64"/>
<path d="M35 135.2 L36 138.5 L37 140.0 L38 140.1 L39 139.8 L40 139.5 L41 139.1 L42 138.7 L43 138.3 L44 137.9 L45 137.5 L46 137.1 L47 136.7 L48 136.4 L49 136.1 L50 135.8 L51 135.6 L52 135.3 L53 135.3 L54 135.6 L55 136.0 L56 136.5 L57 137.1 L58 137.7 L59 138.3 L60 138.9 L61 139.4 L62 139.3 L63 138.1 L64 135.7 L65 132.4 L66 127.9 L67 122.7 L68 117.4 L69 112.3 L70 107.7 L71 103.4 L72 99.2 L73 95.3 L74 92.3 L75 90.7 L76 89.7 L77 88.8 L78 87.9 L79 87.2 L80 87.6 L81 89.2 L82 91.5 L83 94.4 L84 98.6 L85 104.0 L86 110.0 L87 115.8 L88 121.4 L89 127.1 L90 132.5 L91 136.3 L92 137.9 L93 138.1 L94 137.9 L95 137.5 L96 136.8 L97 135.7 L98 134.6 L99 133.4 L100 132.1 L101 130.8 L102 129.4 L103 128.0 L104 126.6 L105 125.2 L106 123.8 L107 122.5 L108 121.3 L109 120.0 L110 118.8 L111 117.5 L112 116.2 L113 114.9 L114 113.6 L115 111.8 L116 109.4 L117 106.5 L118 103.7 L119 101.1 L120 98.6 L121 96.2 L122 93.8 L123 91.6 L124 90.1 L125 89.7 L126 90.0 L127 90.4 L128 90.8 L129 91.5 L130 93.6 L131 101.5 L132 117.6 L133 133.8 L134 140.9 L135 140.6 L136 137.9 L137 134.2 L138 129.0 L139 123.2 L140 118.2 L141 115.3 L142 114.0 L143 113.2 L144 112.5 L145 111.9 L146 111.4 L147 110.9 L148 110.5 L149 110.2 L150 109.9 L151 109.7 L152 109.6 L153 109.5 L154 109.4 L155 109.4 L156 109.4 L157 109.4 L158 109.5 L159 109.8 L160 110.5 L161 111.3 L162 112.1 L163 112.8 L164 113.6 L165 114.6 L166 115.7 L167 117.0 L168 118.1 L169 119.1 L170 119.7 L171 119.9 L172 119.9 L173 119.9 L174 119.9 L175 119.9 L176 119.9 L177 119.9 L178 119.9 L179 119.9 L180 119.9 L181 119.9 L182 119.9 L183 120.0 L184 120.0 L185 120.1 L186 120.1 L187 120.2 L188 120.2 L189 120.3 L190 120.3 L191 120.3 L192 120.4 L193 120.4 L194 120.5 L195 120.5 L196 120.5 L197 120.6 L198 120.6 L199 120.6 L200 120.7 L201 120.7 L202 120.7 L203 120.8 L204 120.8 L205 120.8 L206 120.9 L207 120.9 L208 120.9 L209 121.0 L210 121.0 L211 121.0 L212 121.0 L213 121.1 L214 121.1 L215 121.1 L216 121.2 L217 121.2 L218 121.2 L219 121.2 L220 121.3 L221 121.3 L222 121.3 L223 121.3 L224 121.4 L225 121.4 L226 121.4 L227 121.4 L228 121.5 L229 121.5 L230 121.5 L231 121.6 L232 121.6 L233 121.8 L234 122.0 L235 122.2 L236 122.4 L237 122.6 L238 122.6 L239 122.6 L240 122.6 L241 122.6 L242 122.6 L243 122.6 L244 122.5 L245 122.4 L246 122.2 L247 122.1 L248 121.9 L249 121.8 L250 121.6 L251 121.5 L252 121.3 L253 121.6 L254 122.3 L255 122.7 L256 122.7 L257 122.8 L258 122.8 L259 122.8 L260 122.8 L261 122.8 L262 122.9 L263 122.9 L264 122.9 L265 123.0 L266 123.0 L267 123.0 L268 123.1 L269 123.1 L270 123.2 L271 123.2 L272 123.3 L273 123.4 L274 123.4 L275 123.4 L276 123.4 L277 123.3 L278 123.2 L279 123.2 L280 123.4 L281 123.6 L282 124.0 L283 124.4 L284 124.9 L285 125.5 L286 126.1 L287 126.8 L288 127.5 L289 128.3 L290 129.1 L291 130.0 L292 131.0 L293 132.0 L294 133.1 L295 134.3 L296 135.6 L297 137.0 L298 138.2 L299 138.7 L300 138.9 L301 138.9 L302 138.8 L303 138.6 L304 138.4 L305 138.1 L306 137.9 L307 137.6 L308 137.3 L309 137.0 L310 136.7 L311 136.4 L312 136.1 L313 135.9 L314 135.7 L315 135.5 L316 135.3 L317 135.1 L318 134.9 L319 134.7 L320 134.6 L321 134.4 L322 134.2 L323 134.0 L324 133.8 L325 133.5 L326 133.1 L327 132.7 L328 132.3 L329 131.9 L330 131.5 L331 131.1 L332 130.6 L333 130.1 L334 129.6 L335 129.0 L336 128.4 L337 127.7 L338 127.0 L339 126.2 L340 125.4 L341 124.5 L342 123.6 L343 122.8 L344 122.0 L345 121.3 L346 120.7 L347 120.1 L348 119.5 L349 119.0 L350 118.5 L351 118.0 L352 117.5 L353 117.0 L354 116.5 L355 116.1 L356 115.6 L357 115.2 L358 114.7 L359 114.3 L360 113.9 L361 113.5 L362 113.0 L363 112.4 L364 111.7 L365 110.8 L366 109.7 L367 108.5 L368 107.1 L369 105.7 L370 104.1 L371 102.5 L372 101.0 L373 100.0" stroke-dashoffset="0"/>
<path d="M35 93.5 L36 94.2 L37 94.7 L38 95.1 L39 95.6 L40 96.0 L41 96.5 L42 96.9 L43 97.4 L44 97.8 L45 98.2 L46 98.6 L47 99.0 L48 99.4 L49 99.7 L50 100.1 L51 100.4 L52 100.6 L53 100.9 L54 101.2 L55 101.5 L56 101.7 L57 101.5 L58 100.2 L59 97.9 L60 96.9 L61 99.8 L62 105.4 L63 111.9 L64 118.9 L65 126.1 L66 132.4 L67 137.1 L68 140.6 L69 143.3 L70 144.4 L71 144.1 L72 143.2 L73 142.3 L74 141.3 L75 140.3 L76 139.3 L77 138.4 L78 137.4 L79 136.5 L80 135.4 L81 134.2 L82 132.9 L83 131.5 L84 130.2 L85 128.9 L86 127.7 L87 126.6 L88 125.4 L89 124.2 L90 122.9 L91 121.4 L92 119.9 L93 118.4 L94 117.0 L95 115.6 L96 114.1 L97 112.3 L98 109.5 L99 105.3 L100 100.8 L101 96.5 L102 92.6 L103 90.0 L104 89.6 L105 90.3 L106 91.2 L107 92.1 L108 93.1 L109 94.0 L110 94.9 L111 95.8 L112 96.7 L113 97.3 L114 97.8 L115 98.3 L116 98.8 L117 99.3 L118 99.7 L119 100.1 L120 100.6 L121 100.9 L122 101.2 L123 101.4 L124 101.5 L125 101.6 L126 101.7 L127 101.7 L128 101.7 L129 101.9 L130 102.2 L131 102.6 L132 103.1 L133 103.6 L134 104.1 L135 104.7 L136 105.3 L137 105.8 L138 106.5 L139 107.5 L140 108.8 L141 110.1 L142 111.4 L143 112.6 L144 113.6 L145 114.5 L146 115.1 L147 115.5 L148 116.0 L149 116.5 L150 116.9 L151 117.2 L152 117.6 L153 118.0 L154 118.3 L155 118.6 L156 119.0 L157 119.3 L158 119.6 L159 119.9 L160 120.1 L161 120.4 L162 120.5 L163 120.4 L164 120.4 L165 120.4 L166 120.4 L167 120.4 L168 120.5 L169 120.5 L170 120.5 L171 120.6 L172 120.6 L173 120.6 L174 120.6 L175 120.7 L176 120.7 L177 120.7 L178 120.7 L179 120.8 L180 120.8 L181 120.8 L182 120.8 L183 120.8 L184 120.8 L185 120.8 L186 120.8 L187 120.8 L188 120.8 L189 120.9 L190 120.9 L191 120.9 L192 120.9 L193 120.9 L194 120.9 L195 120.9 L196 120.8 L197 120.8 L198 120.8 L199 120.8 L200 120.8 L201 120.8 L202 120.8 L203 120.8 L204 120.7 L205 120.7 L206 120.7 L207 120.7 L208 120.6 L209 120.6 L210 120.6 L211 120.6 L212 120.5 L213 120.5 L214 120.5 L215 120.5 L216 120.5 L217 120.4 L218 120.4 L219 120.4 L220 120.4 L221 120.3 L222 120.3 L223 120.2 L224 120.2 L225 120.1 L226 120.1 L227 120.0 L228 120.0 L229 119.9 L230 119.9 L231 119.9 L232 119.8 L233 119.8 L234 119.8 L235 119.7 L236 119.7 L237 119.7 L238 119.8 L239 119.8 L240 119.8 L241 119.8 L242 119.9 L243 119.9 L244 119.9 L245 119.9 L246 120.0 L247 120.0 L248 120.0 L249 120.0 L250 120.1 L251 120.2 L252 120.8 L253 121.9 L254 122.6 L255 122.8 L256 122.8 L257 122.8 L258 122.8 L259 122.9 L260 122.9 L261 122.9 L262 123.0 L263 123.0 L264 123.0 L265 123.1 L266 123.1 L267 123.2 L268 123.3 L269 123.3 L270 123.4 L271 123.5 L272 123.6 L273 123.7 L274 123.8 L275 123.9 L276 124.0 L277 124.2 L278 124.3 L279 124.5 L280 124.7 L281 124.9 L282 125.1 L283 125.4 L284 125.8 L285 126.1 L286 126.5 L287 126.8 L288 127.1 L289 127.3 L290 127.5 L291 127.7 L292 127.8 L293 127.9 L294 127.9 L295 128.0 L296 127.9 L297 127.8 L298 127.7 L299 127.5 L300 127.2 L301 127.0 L302 126.6 L303 126.3 L304 125.9 L305 125.4 L306 125.0 L307 124.5 L308 124.1 L309 123.6 L310 123.1 L311 122.6 L312 122.2 L313 121.7 L314 121.3 L315 120.8 L316 120.4 L317 120.0 L318 119.5 L319 119.1 L320 118.6 L321 118.2 L322 117.7 L323 117.3 L324 116.9 L325 116.5 L326 116.1 L327 115.6 L328 115.1 L329 114.5 L330 113.9 L331 113.3 L332 112.6 L333 111.9 L334 111.2 L335 110.4 L336 109.7 L337 108.9 L338 108.2 L339 107.6 L340 107.0 L341 106.5 L342 106.1 L343 105.7 L344 105.3 L345 105.0 L346 104.5 L347 103.6 L348 102.0 L349 100.7 L350 100.4 L351 100.8 L352 101.2 L353 101.7 L354 102.2 L355 102.7 L356 103.1 L357 103.5 L358 104.0 L359 104.4 L360 104.8 L361 105.1 L362 105.3 L363 105.3 L364 105.2 L365 104.9 L366 104.3 L367 103.6 L368 102.8 L369 102.0 L370 101.5 L371 101.7 L372 102.5 L373 103.9" stroke-dashoffset="2.48"/>
<path d="M35 113.0 L36 113.3 L37 114.3 L38 116.1 L39 118.3 L40 119.8 L41 119.6 L42 117.6 L43 114.8 L44 111.8 L45 108.7 L46 105.6 L47 102.6 L48 99.5 L49 96.6 L50 93.7 L51 91.4 L52 89.7 L53 88.2 L54 87.0 L55 86.0 L56 85.1 L57 84.5 L58 84.1 L59 83.9 L60 84.0 L61 84.3 L62 84.5 L63 84.7 L64 84.9 L65 85.1 L66 85.2 L67 85.4 L68 85.5 L69 85.6 L70 85.8 L71 85.9 L72 86.0 L73 86.2 L74 86.3 L75 86.4 L76 86.6 L77 86.7 L78 86.8 L79 86.9 L80 87.0 L81 87.1 L82 87.2 L83 87.2 L84 87.3 L85 87.3 L86 87.4 L87 87.5 L88 87.5 L89 87.6 L90 87.7 L91 87.8 L92 87.9 L93 88.0 L94 88.1 L95 88.4 L96 89.6 L97 92.2 L98 95.4 L99 98.9 L100 102.5 L101 106.7 L102 111.1 L103 115.7 L104 120.4 L105 125.4 L106 130.6 L107 135.6 L108 139.9 L109 143.2 L110 145.9 L111 148.4 L112 150.2 L113 150.7 L114 150.6 L115 150.4 L116 150.2 L117 150.0 L118 149.7 L119 149.4 L120 149.0 L121 148.7 L122 148.3 L123 147.9 L124 147.4 L125 146.7 L126 145.7 L127 144.5 L128 143.2 L129 141.9 L130 140.5 L131 139.3 L132 138.0 L133 136.5 L134 134.6 L135 131.8 L136 125.4 L137 113.9 L138 103.6 L139 99.7 L140 99.4 L141 100.0 L142 100.5 L143 101.1 L144 101.7 L145 102.3 L146 102.9 L147 103.5 L148 104.1 L149 104.8 L150 105.4 L151 106.1 L152 106.7 L153 107.3 L154 107.8 L155 108.2 L156 108.6 L157 109.0 L158 109.4 L159 109.7 L160 110.0 L161 110.3 L162 110.6 L163 110.9 L164 111.2 L165 111.5 L166 111.8 L167 112.1 L168 112.4 L169 112.6 L170 112.8 L171 113.0 L172 113.1 L173 113.3 L174 113.5 L175 113.6 L176 113.8 L177 114.0 L178 114.1 L179 114.3 L180 114.5 L181 114.7 L182 115.0 L183 115.3 L184 115.6 L185 115.9 L186 116.3 L187 116.6 L188 116.9 L189 117.1 L190 117.3 L191 117.4 L192 117.5 L193 117.7 L194 117.8 L195 118.0 L196 118.1 L197 118.2 L198 118.3 L199 118.4 L200 118.5 L201 118.6 L202 118.7 L203 118.8 L204 118.9 L205 118.7 L206 118.2 L207 118.1 L208 118.2 L209 118.3 L210 118.5 L211 118.7 L212 119.0 L213 119.3 L214 119.5 L215 119.8 L216 120.0 L217 120.3 L218 120.5 L219 120.6 L220 120.8 L221 120.9 L222 121.1 L223 121.2 L224 121.4 L225 121.5 L226 121.7 L227 121.8 L228 121.9 L229 122.0 L230 122.2 L231 122.3 L232 122.4 L233 122.5 L234 122.5 L235 122.4 L236 122.4 L237 122.4 L238 122.3 L239 122.3 L240 122.3 L241 122.2 L242 122.2 L243 122.2 L244 122.2 L245 122.1 L246 122.1 L247 122.1 L248 122.1 L249 122.0 L250 122.0 L251 122.0 L252 122.0 L253 121.9 L254 121.9 L255 121.9 L256 121.9 L257 121.9 L258 121.8 L259 121.8 L260 121.8 L261 121.7 L262 121.7 L263 121.6 L264 121.6 L265 121.5 L266 121.4 L267 121.4 L268 121.3 L269 121.2 L270 121.1 L271 121.0 L272 120.8 L273 120.7 L274 120.5 L275 120.3 L276 120.1 L277 119.8 L278 119.5 L279 119.1 L280 118.7 L281 118.3 L282 117.9 L283 117.5 L284 117.2 L285 116.9 L286 116.6 L287 116.4 L288 116.2 L289 116.1 L290 116.0 L291 115.9 L292 115.8 L293 115.8 L294 115.9 L295 115.9 L296 116.1 L297 116.2 L298 116.3 L299 116.5 L300 116.7 L301 117.0 L302 117.4 L303 117.8 L304 118.4 L305 119.0 L306 119.6 L307 120.2 L308 120.9 L309 121.7 L310 122.5 L311 123.3 L312 124.2 L313 125.1 L314 126.0 L315 127.0 L316 128.1 L317 129.2 L318 130.4 L319 131.5 L320 132.7 L321 133.8 L322 134.9 L323 136.1 L324 137.2 L325 138.4 L326 139.5 L327 140.7 L328 142.0 L329 143.2 L330 144.0 L331 143.7 L332 141.7 L333 138.6 L334 134.5 L335 128.6 L336 117.0 L337 101.8 L338 95.0 L339 94.9 L340 96.1 L341 97.6 L342 99.7 L343 102.8 L344 106.5 L345 110.3 L346 114.0 L347 117.4 L348 120.6 L349 123.7 L350 127.0 L351 130.2 L352 133.3 L353 136.2 L354 139.1 L355 141.7 L356 144.0 L357 146.2 L358 148.4 L359 150.8 L360 153.2 L361 155.7 L362 157.5 L363 157.6 L364 156.4 L365 154.7 L366 152.9 L367 151.0 L368 149.0 L369 146.9 L370 144.8 L371 142.6 L372 140.5 L373 138.6" stroke-dashoffset="6.16"/>
<path d="M35 145.5 L36 144.4 L37 143.2 L38 142.0 L39 140.8 L40 139.7 L41 138.5 L42 137.3 L43 136.1 L44 135.0 L45 133.8 L46 132.6 L47 131.5 L48 130.2 L49 128.8 L50 127.4 L51 125.9 L52 124.5 L53 123.1 L54 121.7 L55 120.3 L56 119.0 L57 117.6 L58 116.3 L59 114.9 L60 113.5 L61 112.1 L62 110.6 L63 109.2 L64 107.8 L65 106.6 L66 105.3 L67 104.2 L68 103.0 L69 101.9 L70 100.9 L71 99.9 L72 98.9 L73 97.9 L74 97.0 L75 96.1 L76 95.2 L77 94.3 L78 93.7 L79 93.4 L80 93.3 L81 93.3 L82 93.3 L83 93.2 L84 93.1 L85 92.9 L86 93.0 L87 93.4 L88 94.2 L89 95.2 L90 96.2 L91 97.2 L92 98.2 L93 99.2 L94 100.1 L95 100.8 L96 101.5 L97 102.2 L98 103.0 L99 103.8 L100 104.6 L101 105.4 L102 106.3 L103 107.2 L104 108.2 L105 109.2 L106 110.2 L107 111.2 L108 112.1 L109 113.1 L110 114.0 L111 114.8 L112 115.6 L113 116.4 L114 117.2 L115 118.2 L116 119.4 L117 120.7 L118 122.1 L119 123.5 L120 124.9 L121 126.4 L122 127.9 L123 129.4 L124 131.0 L125 132.5 L126 134.1 L127 135.9 L128 138.2 L129 141.0 L130 143.7 L131 145.0 L132 144.7 L133 143.9 L134 142.9 L135 142.0 L136 141.1 L137 140.1 L138 139.1 L139 138.1 L140 137.0 L141 135.9 L142 134.6 L143 133.3 L144 132.0 L145 130.5 L146 128.9 L147 127.2 L148 125.3 L149 123.3 L150 121.4 L151 119.7 L152 118.2 L153 116.8 L154 115.4 L155 114.3 L156 113.5 L157 112.8 L158 112.3 L159 111.9 L160 111.6 L161 111.4 L162 111.6 L163 111.9 L164 112.3 L165 112.8 L166 113.2 L167 113.7 L168 114.1 L169 114.6 L170 115.1 L171 115.7 L172 116.3 L173 116.9 L174 117.5 L175 118.0 L176 118.4 L177 118.8 L178 119.2 L179 119.5 L180 119.7 L181 119.9 L182 120.0 L183 120.1 L184 120.2 L185 120.3 L186 120.5 L187 120.6 L188 120.7 L189 120.8 L190 120.9 L191 121.0 L192 121.0 L193 120.8 L194 120.7 L195 120.5 L196 120.2 L197 120.0 L198 119.7 L199 119.3 L200 118.8 L201 118.4 L202 118.1 L203 117.8 L204 117.7 L205 117.6 L206 117.5 L207 117.5 L208 117.6 L209 117.6 L210 117.7 L211 117.7 L212 117.8 L213 117.8 L214 117.9 L215 117.9 L216 118.0 L217 118.0 L218 118.1 L219 118.1 L220 118.2 L221 118.2 L222 118.3 L223 118.3 L224 118.4 L225 118.5 L226 118.5 L227 118.6 L228 118.6 L229 118.7 L230 118.7 L231 118.8 L232 118.9 L233 118.9 L234 119.0 L235 119.1 L236 119.1 L237 119.2 L238 119.3 L239 119.4 L240 119.4 L241 119.5 L242 119.6 L243 119.6 L244 119.7 L245 119.8 L246 119.8 L247 119.9 L248 120.0 L249 120.0 L250 120.1 L251 120.1 L252 120.2 L253 120.2 L254 120.2 L255 120.3 L256 120.3 L257 120.3 L258 120.3 L259 120.4 L260 120.4 L261 120.4 L262 120.4 L263 120.5 L264 120.5 L265 120.6 L266 120.8 L267 120.9 L268 121.0 L269 121.1 L270 121.2 L271 121.2 L272 121.3 L273 121.5 L274 121.6 L275 121.9 L276 122.1 L277 122.5 L278 122.8 L279 123.2 L280 123.6 L281 124.0 L282 124.6 L283 125.1 L284 125.5 L285 125.6 L286 125.6 L287 125.4 L288 125.2 L289 124.7 L290 124.1 L291 123.3 L292 122.4 L293 121.4 L294 120.3 L295 119.1 L296 118.0 L297 116.9 L298 115.9 L299 114.8 L300 113.8 L301 112.6 L302 111.4 L303 110.1 L304 108.7 L305 107.3 L306 105.9 L307 104.5 L308 103.2 L309 102.0 L310 100.8 L311 99.6 L312 98.5 L313 97.8 L314 97.9 L315 98.6 L316 99.5 L317 100.6 L318 101.9 L319 103.7 L320 105.7 L321 107.8 L322 110.1 L323 112.5 L324 115.0 L325 117.7 L326 120.8 L327 124.2 L328 127.7 L329 131.4 L330 135.0 L331 138.6 L332 141.8 L333 144.3 L334 145.2 L335 144.1 L336 141.9 L337 139.0 L338 135.5 L339 131.5 L340 127.4 L341 123.4 L342 119.6 L343 116.2 L344 112.9 L345 109.7 L346 106.6 L347 103.9 L348 101.8 L349 100.4 L350 99.5 L351 99.2 L352 99.3 L353 99.7 L354 100.1 L355 100.5 L356 100.8 L357 101.2 L358 101.5 L359 101.8 L360 102.1 L361 102.3 L362 102.4 L363 102.3 L364 101.9 L365 101.3 L366 100.4 L367 99.3 L368 98.3 L369 97.2 L370 96.4 L371 95.9 L372 96.0 L373 96.5" stroke-dashoffset="4.89"/>
<path d="M35 96.4 L36 97.5 L37 98.6 L38 99.7 L39 100.7 L40 101.7 L41 102.7 L42 103.7 L43 104.7 L44 105.6 L45 106.5 L46 107.5 L47 108.4 L48 109.2 L49 110.1 L50 111.0 L51 111.9 L52 112.8 L53 113.7 L54 114.6 L55 115.7 L56 116.8 L57 117.9 L58 119.2 L59 120.6 L60 122.1 L61 123.7 L62 125.3 L63 127.0 L64 128.7 L65 130.4 L66 132.0 L67 133.3 L68 132.5 L69 122.2 L70 103.4 L71 99.6 L72 110.8 L73 118.4 L74 117.2 L75 113.1 L76 110.2 L77 108.2 L78 106.5 L79 104.8 L80 103.2 L81 101.6 L82 100.0 L83 98.5 L84 97.2 L85 96.3 L86 95.8 L87 95.3 L88 94.8 L89 94.1 L90 93.4 L91 92.6 L92 92.8 L93 94.6 L94 97.5 L95 101.2 L96 109.7 L97 126.3 L98 142.4 L99 149.5 L100 151.1 L101 151.6 L102 151.9 L103 152.1 L104 152.1 L105 152.1 L106 152.0 L107 151.9 L108 151.7 L109 151.6 L110 151.4 L111 151.3 L112 151.1 L113 150.9 L114 150.7 L115 150.5 L116 150.3 L117 150.1 L118 149.6 L119 148.0 L120 144.3 L121 138.8 L122 131.4 L123 123.1 L124 115.2 L125 107.9 L126 101.5 L127 98.4 L128 108.6 L129 132.4 L130 145.3 L131 146.6 L132 145.8 L133 145.1 L134 144.3 L135 143.5 L136 142.8 L137 142.0 L138 141.1 L139 140.3 L140 139.3 L141 138.3 L142 137.1 L143 135.9 L144 134.7 L145 133.4 L146 132.2 L147 131.0 L148 129.8 L149 128.7 L150 127.7 L151 126.8 L152 126.0 L153 125.3 L154 124.7 L155 124.2 L156 123.6 L157 123.1 L158 122.6 L159 122.1 L160 121.7 L161 121.3 L162 121.0 L163 120.7 L164 120.5 L165 120.4 L166 120.3 L167 120.1 L168 119.5 L169 118.1 L170 116.4 L171 115.0 L172 114.0 L173 113.2 L174 112.4 L175 111.9 L176 112.5 L177 115.4 L178 118.7 L179 120.4 L180 120.8 L181 120.8 L182 120.8 L183 120.8 L184 120.8 L185 120.8 L186 120.8 L187 120.8 L188 120.8 L189 120.9 L190 120.9 L191 120.9 L192 120.9 L193 121.0 L194 121.0 L195 121.0 L196 121.1 L197 121.1 L198 121.1 L199 121.2 L200 121.2 L201 121.2 L202 121.3 L203 121.3 L204 121.3 L205 121.3 L206 121.3 L207 121.4 L208 121.4 L209 121.4 L210 121.4 L211 121.4 L212 121.5 L213 121.5 L214 121.6 L215 121.6 L216 121.6 L217 121.7 L218 121.7 L219 121.8 L220 121.8 L221 121.8 L222 121.9 L223 121.9 L224 122.0 L225 122.0 L226 122.0 L227 122.1 L228 122.1 L229 122.2 L230 122.2 L231 122.2 L232 122.3 L233 122.3 L234 122.3 L235 122.3 L236 122.3 L237 122.3 L238 122.2 L239 122.2 L240 122.2 L241 122.2 L242 122.2 L243 122.1 L244 122.1 L245 122.1 L246 122.1 L247 122.1 L248 122.0 L249 122.0 L250 122.0 L251 122.0 L252 122.0 L253 122.0 L254 121.9 L255 121.9 L256 121.9 L257 121.9 L258 121.9 L259 121.9 L260 121.8 L261 121.8 L262 121.8 L263 121.8 L264 121.7 L265 121.7 L266 121.7 L267 121.7 L268 121.6 L269 121.6 L270 121.5 L271 121.4 L272 121.4 L273 121.2 L274 121.1 L275 121.0 L276 120.9 L277 120.7 L278 120.5 L279 120.4 L280 120.2 L281 120.0 L282 119.8 L283 119.6 L284 119.4 L285 119.1 L286 118.9 L287 118.6 L288 118.3 L289 118.0 L290 117.7 L291 117.4 L292 117.1 L293 116.8 L294 116.5 L295 116.2 L296 115.8 L297 115.5 L298 115.2 L299 114.9 L300 114.6 L301 114.2 L302 113.9 L303 113.5 L304 113.1 L305 112.8 L306 112.4 L307 112.1 L308 111.8 L309 111.5 L310 111.2 L311 110.9 L312 110.7 L313 110.7 L314 111.0 L315 111.4 L316 111.9 L317 112.3 L318 112.9 L319 113.4 L320 114.0 L321 114.7 L322 115.3 L323 116.1 L324 116.8 L325 117.6 L326 118.4 L327 119.3 L328 120.3 L329 121.3 L330 122.3 L331 123.4 L332 124.6 L333 125.8 L334 127.0 L335 128.3 L336 129.6 L337 130.9 L338 132.2 L339 133.6 L340 134.9 L341 136.2 L342 137.4 L343 138.5 L344 139.6 L345 140.6 L346 141.5 L347 142.3 L348 143.0 L349 143.7 L350 144.6 L351 146.0 L352 147.7 L353 149.5 L354 151.3 L355 153.0 L356 154.0 L357 153.7 L358 152.3 L359 150.7 L360 148.9 L361 147.1 L362 145.3 L363 143.4 L364 141.4 L365 139.5 L366 137.6 L367 135.9 L368 134.2 L369 132.5 L370 130.9 L371 129.3 L372 127.6 L373 125.7" stroke-dashoffset="0.38"/>
<path d="M35 100.4 L36 99.5 L37 98.6 L38 97.7 L39 96.7 L40 95.8 L41 94.9 L42 94.0 L43 93.2 L44 92.5 L45 91.9 L46 91.3 L47 90.8 L48 90.3 L49 89.8 L50 89.3 L51 88.8 L52 88.3 L53 87.8 L54 87.4 L55 87.0 L56 86.6 L57 86.3 L58 86.1 L59 85.9 L60 85.8 L61 85.8 L62 85.8 L63 85.9 L64 86.0 L65 86.2 L66 86.9 L67 88.0 L68 89.8 L69 93.2 L70 98.0 L71 103.3 L72 108.6 L73 113.4 L74 116.6 L75 117.9 L76 118.2 L77 118.5 L78 118.8 L79 119.0 L80 119.3 L81 119.6 L82 119.8 L83 120.1 L84 120.5 L85 120.9 L86 121.3 L87 121.9 L88 122.7 L89 123.7 L90 124.8 L91 126.0 L92 127.1 L93 128.2 L94 129.3 L95 130.4 L96 131.5 L97 132.6 L98 133.6 L99 134.7 L100 135.7 L101 136.7 L102 137.7 L103 138.5 L104 139.2 L105 139.9 L106 140.5 L107 140.9 L108 141.2 L109 141.4 L110 141.7 L111 142.0 L112 142.2 L113 142.4 L114 142.7 L115 142.9 L116 143.0 L117 142.8 L118 142.1 L119 141.4 L120 140.6 L121 139.7 L122 138.6 L123 137.2 L124 135.8 L125 134.3 L126 132.7 L127 131.2 L128 129.5 L129 127.8 L130 126.1 L131 124.4 L132 122.8 L133 121.2 L134 119.7 L135 118.3 L136 117.0 L137 115.9 L138 114.8 L139 113.7 L140 112.7 L141 111.8 L142 111.0 L143 110.2 L144 109.5 L145 108.9 L146 108.3 L147 107.9 L148 107.5 L149 107.3 L150 107.1 L151 107.0 L152 107.1 L153 107.3 L154 107.4 L155 107.4 L156 107.4 L157 107.5 L158 107.5 L159 107.5 L160 107.5 L161 107.5 L162 107.4 L163 107.5 L164 107.7 L165 108.4 L166 109.6 L167 111.0 L168 112.3 L169 113.5 L170 114.8 L171 116.3 L172 117.9 L173 118.7 L174 118.1 L175 116.5 L176 115.3 L177 115.7 L178 117.2 L179 118.3 L180 118.5 L181 118.5 L182 118.4 L183 118.4 L184 118.4 L185 118.4 L186 118.4 L187 118.4 L188 118.3 L189 118.3 L190 118.3 L191 118.2 L192 118.1 L193 118.0 L194 118.0 L195 117.9 L196 117.8 L197 117.8 L198 117.7 L199 117.7 L200 117.7 L201 117.7 L202 117.7 L203 117.7 L204 117.7 L205 117.7 L206 117.7 L207 117.7 L208 117.7 L209 117.7 L210 117.8 L211 117.8 L212 117.9 L213 117.9 L214 118.0 L215 118.0 L216 118.1 L217 118.1 L218 118.2 L219 118.3 L220 118.6 L221 119.1 L222 119.8 L223 120.5 L224 121.1 L225 121.5 L226 121.0 L227 119.5 L228 118.7 L229 118.6 L230 118.7 L231 118.8 L232 118.9 L233 119.0 L234 119.1 L235 119.2 L236 119.3 L237 119.4 L238 119.5 L239 119.6 L240 119.7 L241 119.8 L242 119.9 L243 120.0 L244 120.1 L245 120.1 L246 120.2 L247 120.3 L248 120.4 L249 120.6 L250 120.7 L251 121.0 L252 121.5 L253 122.0 L254 122.4 L255 122.7 L256 122.7 L257 122.7 L258 122.7 L259 122.7 L260 122.7 L261 122.7 L262 122.6 L263 122.6 L264 122.6 L265 122.6 L266 122.6 L267 122.6 L268 122.6 L269 122.6 L270 122.6 L271 122.5 L272 122.4 L273 122.4 L274 122.2 L275 122.1 L276 121.9 L277 121.8 L278 121.5 L279 121.3 L280 121.0 L281 120.8 L282 121.0 L283 122.4 L284 124.2 L285 124.0 L286 121.8 L287 119.6 L288 118.5 L289 118.5 L290 119.2 L291 120.1 L292 121.2 L293 122.4 L294 123.8 L295 125.2 L296 126.8 L297 128.4 L298 130.1 L299 131.8 L300 132.8 L301 132.4 L302 131.0 L303 129.4 L304 127.9 L305 127.1 L306 127.1 L307 127.5 L308 128.1 L309 128.7 L310 129.2 L311 129.8 L312 130.4 L313 130.9 L314 131.1 L315 130.7 L316 130.0 L317 129.1 L318 128.2 L319 127.3 L320 126.4 L321 125.5 L322 124.5 L323 123.4 L324 122.4 L325 121.3 L326 120.1 L327 119.0 L328 117.9 L329 116.8 L330 115.7 L331 114.5 L332 113.2 L333 111.8 L334 110.4 L335 109.3 L336 108.5 L337 108.1 L338 107.7 L339 107.5 L340 107.3 L341 107.2 L342 107.1 L343 107.1 L344 107.1 L345 107.1 L346 107.1 L347 107.1 L348 107.2 L349 107.2 L350 107.3 L351 107.4 L352 107.5 L353 107.6 L354 107.7 L355 107.7 L356 107.8 L357 107.9 L358 108.0 L359 108.0 L360 108.1 L361 108.1 L362 108.1 L363 108.0 L364 107.7 L365 107.3 L366 106.6 L367 105.7 L368 104.7 L369 103.6 L370 102.4 L371 101.1 L372 99.9 L373 99.2" stroke-dashoffset="4.5"/>
<path d="M35 117.7 L36 113.9 L37 109.8 L38 105.5 L39 101.3 L40 97.1 L41 93.4 L42 90.3 L43 87.7 L44 85.3 L45 83.9 L46 84.2 L47 85.7 L48 87.4 L49 89.0 L50 90.5 L51 92.2 L52 94.4 L53 96.6 L54 97.4 L55 96.1 L56 93.8 L57 91.3 L58 89.3 L59 88.1 L60 87.5 L61 87.1 L62 86.8 L63 86.6 L64 86.5 L65 86.4 L66 86.6 L67 87.2 L68 87.5 L69 87.7 L70 87.8 L71 87.9 L72 88.0 L73 88.1 L74 88.2 L75 88.3 L76 88.4 L77 88.6 L78 89.0 L79 89.7 L80 90.5 L81 91.3 L82 92.2 L83 93.1 L84 94.2 L85 95.3 L86 96.6 L87 98.3 L88 100.2 L89 102.3 L90 104.3 L91 106.2 L92 107.9 L93 109.6 L94 111.2 L95 112.7 L96 114.2 L97 115.7 L98 117.2 L99 118.7 L100 120.4 L101 122.1 L102 123.9 L103 125.8 L104 127.6 L105 129.4 L106 131.1 L107 132.7 L108 134.3 L109 135.8 L110 137.3 L111 138.7 L112 140.0 L113 140.9 L114 141.7 L115 142.5 L116 143.2 L117 143.9 L118 144.6 L119 145.3 L120 145.9 L121 146.5 L122 147.0 L123 147.4 L124 147.8 L125 148.0 L126 148.2 L127 147.7 L128 142.7 L129 130.5 L130 124.0 L131 133.1 L132 140.3 L133 141.1 L134 140.5 L135 139.9 L136 139.3 L137 138.7 L138 138.0 L139 137.3 L140 136.5 L141 135.6 L142 134.7 L143 133.7 L144 132.6 L145 131.5 L146 130.5 L147 129.4 L148 128.4 L149 127.5 L150 126.6 L151 125.8 L152 125.2 L153 124.6 L154 124.1 L155 123.6 L156 123.1 L157 122.7 L158 122.3 L159 121.9 L160 121.5 L161 121.2 L162 120.9 L163 120.7 L164 120.5 L165 120.4 L166 120.3 L167 120.3 L168 120.2 L169 120.2 L170 120.1 L171 120.1 L172 120.1 L173 120.1 L174 120.0 L175 120.0 L176 120.0 L177 120.0 L178 120.0 L179 120.0 L180 120.0 L181 120.0 L182 120.0 L183 120.0 L184 120.0 L185 120.0 L186 119.9 L187 119.5 L188 119.0 L189 118.5 L190 118.2 L191 118.1 L192 118.2 L193 118.2 L194 118.3 L195 118.3 L196 118.4 L197 118.4 L198 118.4 L199 118.5 L200 118.5 L201 118.5 L202 118.6 L203 118.6 L204 118.6 L205 118.7 L206 118.7 L207 118.7 L208 118.7 L209 118.7 L210 118.7 L211 118.6 L212 118.5 L213 118.5 L214 118.5 L215 118.5 L216 118.5 L217 118.5 L218 118.4 L219 118.4 L220 118.4 L221 118.4 L222 118.6 L223 118.9 L224 119.5 L225 120.2 L226 120.9 L227 121.4 L228 121.9 L229 122.2 L230 122.4 L231 122.4 L232 122.3 L233 122.3 L234 122.2 L235 122.2 L236 122.2 L237 122.1 L238 122.1 L239 122.1 L240 122.1 L241 122.1 L242 122.1 L243 122.1 L244 122.1 L245 122.1 L246 122.1 L247 122.1 L248 122.1 L249 122.1 L250 122.1 L251 122.1 L252 122.1 L253 122.1 L254 122.1 L255 122.1 L256 122.1 L257 122.1 L258 122.1 L259 122.1 L260 122.1 L261 122.0 L262 122.0 L263 122.0 L264 121.9 L265 121.9 L266 121.8 L267 121.7 L268 121.6 L269 121.5 L270 121.4 L271 121.3 L272 121.1 L273 121.0 L274 120.8 L275 120.6 L276 120.4 L277 120.2 L278 119.9 L279 119.6 L280 119.2 L281 118.7 L282 118.1 L283 117.5 L284 116.9 L285 116.2 L286 115.4 L287 114.6 L288 113.8 L289 113.0 L290 112.1 L291 111.5 L292 111.6 L293 113.0 L294 114.8 L295 115.7 L296 115.8 L297 115.8 L298 115.7 L299 115.7 L300 115.7 L301 115.7 L302 115.7 L303 115.7 L304 115.6 L305 115.3 L306 114.9 L307 114.4 L308 113.9 L309 113.4 L310 112.9 L311 112.4 L312 111.9 L313 111.4 L314 110.9 L315 110.4 L316 109.8 L317 109.3 L318 108.7 L319 108.1 L320 107.5 L321 106.9 L322 106.3 L323 105.6 L324 104.9 L325 104.2 L326 103.4 L327 102.5 L328 101.5 L329 100.5 L330 99.5 L331 98.6 L332 97.9 L333 97.9 L334 98.7 L335 100.1 L336 101.8 L337 104.0 L338 107.3 L339 111.5 L340 115.9 L341 120.6 L342 125.6 L343 130.9 L344 136.2 L345 140.9 L346 144.4 L347 146.2 L348 146.9 L349 147.2 L350 147.5 L351 147.8 L352 148.1 L353 148.4 L354 148.8 L355 149.1 L356 149.5 L357 149.9 L358 150.4 L359 150.9 L360 151.5 L361 152.2 L362 152.9 L363 153.6 L364 154.4 L365 155.2 L366 156.1 L367 156.9 L368 157.8 L369 158.5 L370 158.1 L371 155.8 L372 152.2 L373 148.2" stroke-dashoffset="5.87"/>
<path d="M35 92.1 L36 92.8 L37 93.5 L38 94.3 L39 95.1 L40 96.0 L41 96.9 L42 97.7 L43 98.5 L44 99.0 L45 99.3 L46 99.6 L47 99.8 L48 100.1 L49 100.3 L50 100.6 L51 100.8 L52 100.9 L53 101.1 L54 101.2 L55 101.4 L56 101.6 L57 101.8 L58 102.1 L59 102.5 L60 102.9 L61 103.3 L62 103.9 L63 104.4 L64 105.0 L65 105.6 L66 106.3 L67 107.0 L68 107.7 L69 108.4 L70 109.3 L71 110.3 L72 111.3 L73 112.5 L74 113.6 L75 114.7 L76 115.8 L77 116.8 L78 117.8 L79 118.7 L80 119.6 L81 120.5 L82 121.3 L83 122.2 L84 123.1 L85 124.0 L86 125.1 L87 126.2 L88 127.5 L89 128.8 L90 130.2 L91 131.6 L92 133.1 L93 134.4 L94 135.8 L95 137.0 L96 138.2 L97 139.1 L98 140.0 L99 140.8 L100 141.6 L101 142.4 L102 143.1 L103 143.7 L104 144.2 L105 144.6 L106 145.0 L107 145.3 L108 145.7 L109 146.0 L110 146.3 L111 146.7 L112 147.0 L113 147.3 L114 147.6 L115 147.9 L116 148.2 L117 148.5 L118 148.7 L119 148.9 L120 149.0 L121 149.1 L122 149.1 L123 149.1 L124 149.0 L125 148.3 L126 145.8 L127 140.0 L128 130.6 L129 119.2 L130 108.7 L131 102.2 L132 101.2 L133 103.6 L134 107.1 L135 110.8 L136 114.3 L137 117.8 L138 121.5 L139 125.2 L140 128.7 L141 131.4 L142 132.8 L143 133.5 L144 133.8 L145 133.8 L146 133.0 L147 131.3 L148 129.1 L149 127.0 L150 124.8 L151 122.1 L152 119.3 L153 116.7 L154 114.4 L155 112.8 L156 111.5 L157 110.5 L158 109.6 L159 108.8 L160 108.1 L161 107.4 L162 106.9 L163 106.7 L164 106.9 L165 107.3 L166 107.7 L167 108.2 L168 108.6 L169 109.1 L170 109.5 L171 110.2 L172 111.1 L173 112.1 L174 113.0 L175 114.0 L176 114.9 L177 115.8 L178 116.8 L179 117.7 L180 118.5 L181 119.3 L182 119.8 L183 120.1 L184 120.2 L185 120.3 L186 120.4 L187 120.5 L188 120.6 L189 120.7 L190 120.8 L191 120.9 L192 120.9 L193 120.9 L194 120.8 L195 120.3 L196 119.5 L197 118.6 L198 117.8 L199 117.4 L200 117.4 L201 117.5 L202 117.6 L203 117.7 L204 117.8 L205 117.9 L206 118.0 L207 118.1 L208 118.2 L209 118.3 L210 118.4 L211 118.4 L212 118.5 L213 118.6 L214 118.7 L215 118.8 L216 119.0 L217 119.1 L218 119.2 L219 119.4 L220 119.5 L221 119.6 L222 119.7 L223 119.8 L224 120.0 L225 120.1 L226 120.2 L227 120.3 L228 120.4 L229 120.5 L230 120.6 L231 120.7 L232 120.8 L233 121.0 L234 121.3 L235 121.7 L236 121.9 L237 121.8 L238 121.5 L239 121.3 L240 121.2 L241 121.3 L242 121.5 L243 121.7 L244 121.9 L245 122.0 L246 122.1 L247 122.1 L248 122.1 L249 122.1 L250 122.1 L251 122.1 L252 122.2 L253 122.2 L254 122.2 L255 122.2 L256 122.2 L257 122.2 L258 122.2 L259 122.2 L260 122.3 L261 122.3 L262 122.3 L263 122.3 L264 122.3 L265 122.3 L266 122.4 L267 122.4 L268 122.4 L269 122.4 L270 122.4 L271 122.4 L272 122.4 L273 122.3 L274 122.3 L275 122.3 L276 122.2 L277 122.2 L278 122.1 L279 122.0 L280 121.9 L281 121.8 L282 121.7 L283 121.5 L284 121.4 L285 121.2 L286 121.0 L287 120.8 L288 120.5 L289 120.2 L290 119.9 L291 119.6 L292 119.2 L293 118.7 L294 118.3 L295 117.9 L296 117.5 L297 117.1 L298 116.7 L299 116.3 L300 115.9 L301 115.4 L302 114.9 L303 114.5 L304 114.0 L305 113.5 L306 113.0 L307 112.5 L308 112.0 L309 111.6 L310 111.1 L311 110.6 L312 110.2 L313 109.7 L314 109.2 L315 108.7 L316 108.2 L317 107.3 L318 105.7 L319 103.5 L320 101.2 L321 99.2 L322 97.6 L323 96.5 L324 96.0 L325 95.8 L326 95.7 L327 95.6 L328 95.5 L329 95.4 L330 95.4 L331 95.3 L332 95.2 L333 95.2 L334 95.2 L335 95.2 L336 95.3 L337 95.4 L338 95.6 L339 95.8 L340 96.2 L341 96.6 L342 97.1 L343 97.8 L344 98.9 L345 100.4 L346 102.4 L347 105.0 L348 107.7 L349 110.5 L350 113.2 L351 115.9 L352 118.4 L353 121.0 L354 123.4 L355 126.0 L356 128.6 L357 131.1 L358 133.5 L359 135.8 L360 138.1 L361 140.3 L362 142.4 L363 144.6 L364 146.9 L365 149.2 L366 150.7 L367 149.6 L368 145.3 L369 139.8 L370 134.7 L371 131.1 L372 129.6 L373 129.3" stroke-dashoffset="6.19"/>
<path d="M288 109.0 L289.5 107.3 L291 105.7 L292.5 104.1 L294 102.5 L295.5 101.1 L297 99.6 L298.5 98.3 L300 97.0 L301.5 95.8 L303 94.7 L304.5 93.6 L306 92.6 L307.5 91.8 L309 91.0 L310.5 90.3 L312 89.7 L313.5 89.2 L315 88.7 L316.5 88.3 L318 88.0 L319.5 87.7 L321 87.5 L322.5 87.4 L324 87.5 L325.5 87.7 L327 88.1 L328.5 88.7 L330 89.5 L331.5 90.3 L333 91.2 L334.5 92.0 L336 92.9 L337.5 93.7" stroke-dashoffset="4.58"/>
<path d="M290 109.0 L291.5 107.4 L293 105.8 L294.5 104.3 L296 102.8 L297.5 101.4 L299 100.1 L300.5 98.9 L302 97.7 L303.5 96.6 L305 95.6 L306.5 94.7 L308 93.8 L309.5 93.0 L311 92.3 L312.5 91.7 L314 91.1 L315.5 90.6 L317 90.2 L318.5 89.9 L320 89.6 L321.5 89.4 L323 89.4 L324.5 89.4 L326 89.6 L327.5 90.0 L329 90.5 L330.5 91.3 L332 92.2" stroke-dashoffset="5.52"/>
<path d="M294 106.0 L295.5 104.6 L297 103.3 L298.5 102.1 L300 100.9 L301.5 99.7 L303 98.7 L304.5 97.7 L306 96.7 L307.5 95.9 L309 95.1 L310.5 94.3 L312 93.7 L313.5 93.1 L315 92.5 L316.5 92.1 L318 91.7 L319.5 91.4 L321 91.2 L322.5 91.2 L324 91.3 L325.5 91.6 L327 92.2 L328.5 93.0 L330 94.0" stroke-dashoffset="5.39"/>
<path d="M274 123.5 L275.5 123.9 L277 124.4 L278.5 125.0 L280 125.7 L281.5 126.6 L283 127.5 L284.5 128.5 L286 129.5 L287.5 130.6 L289 131.8 L290.5 132.9 L292 134.1 L293.5 135.2 L295 136.4 L296.5 137.4 L298 138.5 L299.5 139.5 L301 140.4 L302.5 141.3 L304 142.1 L305.5 142.9 L307 143.6 L308.5 144.2 L310 144.8 L311.5 145.3 L313 145.8 L314.5 146.2 L316 146.5 L317.5 146.8 L319 146.9 L320.5 147.1 L322 147.1 L323.5 147.0" stroke-dashoffset="2.29"/>
<path d="M280 125.0 L281.5 125.6 L283 126.2 L284.5 126.9 L286 127.8 L287.5 128.6 L289 129.5 L290.5 130.5 L292 131.5 L293.5 132.5 L295 133.5 L296.5 134.5 L298 135.5 L299.5 136.5 L301 137.4 L302.5 138.3 L304 139.1 L305.5 139.9 L307 140.6 L308.5 141.3 L310 142.0 L311.5 142.6 L313 143.2 L314.5 143.8 L316 144.4 L317.5 145.0 L319 145.6" stroke-dashoffset="0.63"/>
<path d="M45 145.0 L46.5 145.8 L48 146.6 L49.5 147.4 L51 148.1 L52.5 148.7 L54 149.3 L55.5 149.8 L57 150.3 L58.5 150.7 L60 151.0 L61.5 151.2 L63 151.4 L64.5 151.4 L66 151.3 L67.5 151.1 L69 150.8" stroke-dashoffset="4.66"/>
<path d="M38.4 80.0 L39.9 78.7 L41.4 77.7 L42.9 76.9 L44.4 76.4 L45.9 76.0 L47.4 75.8 L48.9 75.9 L50.4 76.1 L51.9 76.4 L53.4 77.0 L54.9 77.7 L56.4 78.6 L57.9 79.7 L59.4 80.9 L60.9 82.4 L62.4 84.0 L63.9 85.9" stroke-dashoffset="0.88"/>
<path d="M38.4 84.0 L39.9 82.3 L41.4 80.8 L42.9 79.7 L44.4 78.8 L45.9 78.2 L47.4 77.8 L48.9 77.6 L50.4 77.7 L51.9 78.0 L53.4 78.5 L54.9 79.1 L56.4 79.9 L57.9 80.9" stroke-dashoffset="2.46"/>
</g>
<rect x="58" y="36.2" width="306" height="49.2" fill="#fff"/>
<polyline points="36,114.21 37.99,113.9 39.98,113.53 41.97,113.1 43.96,112.65 45.95,112.17 47.94,111.69 49.93,111.22 51.91,110.77 53.9,110.37 55.89,110.04 57.88,109.8 59.87,109.66 61.86,109.65 63.85,109.79 65.84,110.06 67.83,110.45 69.82,110.94 71.81,111.54 73.8,112.21 75.79,112.95 77.78,113.73 79.77,114.52 81.76,115.3 83.74,116.07 85.73,116.8 87.72,117.51 89.71,118.19 91.7,118.85 93.69,119.48 95.68,120.1 97.67,120.7 99.66,121.29 101.65,121.84 103.64,122.35 105.63,122.79 107.62,123.16 109.61,123.42 111.6,123.57 113.58,123.59 115.57,123.47 117.56,123.24 119.55,122.91 121.54,122.5 123.53,122.03 125.52,121.52 127.51,121 129.5,120.47 131.49,119.93 133.48,119.39 135.47,118.84 137.46,118.29 139.45,117.74 141.44,117.2 143.42,116.66 145.41,116.13 147.4,115.63 149.39,115.14 151.38,114.69 153.37,114.29 155.36,113.96 157.35,113.72 159.34,113.61 161.33,113.64 163.32,113.8 165.31,114.07 167.3,114.43 169.29,114.84 171.28,115.29 173.27,115.76 175.25,116.24 177.24,116.72 179.23,117.2 181.22,117.66 183.21,118.08 185.2,118.46 187.19,118.78 189.18,119.03 191.17,119.23 193.16,119.38 195.15,119.5 197.14,119.59 199.13,119.67 201.12,119.74 203.11,119.81 205.09,119.89 207.08,119.96 209.07,120.03 211.06,120.1 213.05,120.17 215.04,120.24 217.03,120.3 219.02,120.37 221.01,120.43 223,120.49 224.99,120.55 226.98,120.61 228.97,120.67 230.96,120.73 232.95,120.79 234.93,120.85 236.92,120.91 238.91,120.97 240.9,121.03 242.89,121.09 244.88,121.15 246.87,121.21 248.86,121.27 250.85,121.32 252.84,121.37 254.83,121.42 256.82,121.46 258.81,121.5 260.8,121.52 262.79,121.54 264.78,121.53 266.76,121.49 268.75,121.43 270.74,121.32 272.73,121.16 274.72,120.97 276.71,120.73 278.7,120.47 280.69,120.19 282.68,119.89 284.67,119.58 286.66,119.26 288.65,118.95 290.64,118.64 292.63,118.33 294.62,118.02 296.6,117.71 298.59,117.41 300.58,117.12 302.57,116.84 304.56,116.61 306.55,116.43 308.54,116.32 310.53,116.29 312.52,116.36 314.51,116.52 316.5,116.76 318.49,117.06 320.48,117.41 322.47,117.79 324.46,118.2 326.44,118.61 328.43,119.01 330.42,119.41 332.41,119.8 334.4,120.19 336.39,120.58 338.38,120.97 340.37,121.38 342.36,121.79 344.35,122.22 346.34,122.66 348.33,123.11 350.32,123.55 352.31,123.98 354.3,124.38 356.29,124.74 358.27,125.08 360.26,125.39 362.25,125.67 364.24,125.93 366.23,126.18 368.22,126.4 370.21,126.62 372.2,126.82" fill="none" stroke="#f00000" stroke-width="2.0"/>
<line x1="36" y1="113.52" x2="372.2" y2="125.06" stroke="#000" stroke-width="1.55"/>
<line x1="36" y1="188.2" x2="372.2" y2="194.5" stroke="#00ecff" stroke-width="1.6"/>
<line x1="36" y1="251.6" x2="372.2" y2="253.1" stroke="#8c2fd4" stroke-width="1.7"/>
</g>
<clipPath id="ax2"><rect x="36" y="32.75" width="336.2" height="233.65"/></clipPath>
<g clip-path="url(#ax2)" fill="none" stroke="#000" stroke-width="1.05" stroke-linejoin="miter">
<path d="M38.7 250.1 L43.2 258.85 L34.2 258.85 Z"/>
<path d="M68.73 250.1 L73.23 258.85 L64.23 258.85 Z"/>
<path d="M98.76 250.1 L103.26 258.85 L94.26 258.85 Z"/>
<path d="M128.79 250.1 L133.29 258.85 L124.29 258.85 Z"/>
<path d="M158.82 250.1 L163.32 258.85 L154.32 258.85 Z"/>
<path d="M188.85 250.1 L193.35 258.85 L184.35 258.85 Z"/>
<path d="M218.88 250.1 L223.38 258.85 L214.38 258.85 Z"/>
<path d="M248.91 250.1 L253.41 258.85 L244.41 258.85 Z"/>
<path d="M278.94 250.1 L283.44 258.85 L274.44 258.85 Z"/>
<path d="M308.97 250.1 L313.47 258.85 L304.47 258.85 Z"/>
<path d="M339 250.1 L343.5 258.85 L334.5 258.85 Z"/>
<path d="M369.03 250.1 L373.53 258.85 L364.53 258.85 Z"/>
</g>
<path d="M38.95 266.4 L38.95 259.5 M62.4 266.4 L62.4 262.65 M76.12 266.4 L76.12 262.65 M85.85 266.4 L85.85 262.65 M93.4 266.4 L93.4 262.65 M99.57 266.4 L99.57 262.65 M104.78 266.4 L104.78 262.65 M109.3 266.4 L109.3 262.65 M113.29 266.4 L113.29 262.65 M116.85 266.4 L116.85 259.5 M140.3 266.4 L140.3 262.65 M154.02 266.4 L154.02 262.65 M163.75 266.4 L163.75 262.65 M171.3 266.4 L171.3 262.65 M177.47 266.4 L177.47 262.65 M182.68 266.4 L182.68 262.65 M187.2 266.4 L187.2 262.65 M191.19 266.4 L191.19 262.65 M194.75 266.4 L194.75 259.5 M218.2 266.4 L218.2 262.65 M231.92 266.4 L231.92 262.65 M241.65 266.4 L241.65 262.65 M249.2 266.4 L249.2 262.65 M255.37 266.4 L255.37 262.65 M260.58 266.4 L260.58 262.65 M265.1 266.4 L265.1 262.65 M269.09 266.4 L269.09 262.65 M272.65 266.4 L272.65 259.5 M296.1 266.4 L296.1 262.65 M309.82 266.4 L309.82 262.65 M319.55 266.4 L319.55 262.65 M327.1 266.4 L327.1 262.65 M333.27 266.4 L333.27 262.65 M338.48 266.4 L338.48 262.65 M343 266.4 L343 262.65 M346.99 266.4 L346.99 262.65 M350.55 266.4 L350.55 259.5 M51.48 32.75 L51.48 36.5 M65.2 32.75 L65.2 36.5 M74.93 32.75 L74.93 36.5 M82.48 32.75 L82.48 36.5 M88.64 32.75 L88.64 36.5 M93.86 32.75 L93.86 36.5 M98.37 32.75 L98.37 36.5 M102.36 32.75 L102.36 36.5 M129.36 32.75 L129.36 36.5 M143.08 32.75 L143.08 36.5 M152.81 32.75 L152.81 36.5 M160.36 32.75 L160.36 36.5 M166.52 32.75 L166.52 36.5 M171.74 32.75 L171.74 36.5 M176.25 32.75 L176.25 36.5 M180.24 32.75 L180.24 36.5 M183.8 32.75 L183.8 39.65 M207.24 32.75 L207.24 36.5 M220.96 32.75 L220.96 36.5 M230.69 32.75 L230.69 36.5 M238.24 32.75 L238.24 36.5 M244.4 32.75 L244.4 36.5 M249.62 32.75 L249.62 36.5 M254.13 32.75 L254.13 36.5 M258.12 32.75 L258.12 36.5 M261.68 32.75 L261.68 39.65 M285.12 32.75 L285.12 36.5 M298.84 32.75 L298.84 36.5 M308.57 32.75 L308.57 36.5 M316.12 32.75 L316.12 36.5 M322.28 32.75 L322.28 36.5 M327.5 32.75 L327.5 36.5 M332.01 32.75 L332.01 36.5 M336 32.75 L336 36.5 M363 32.75 L363 36.5 M36 261.83 L39.75 261.83 M36 253.88 L39.75 253.88 M36 247.39 L39.75 247.39 M36 241.9 L39.75 241.9 M36 237.15 L39.75 237.15 M36 232.95 L39.75 232.95 M36 229.2 L42.9 229.2 M36 204.52 L39.75 204.52 M36 190.08 L39.75 190.08 M36 179.83 L39.75 179.83 M36 171.88 L39.75 171.88 M36 165.39 L39.75 165.39 M36 159.9 L39.75 159.9 M36 155.15 L39.75 155.15 M36 150.95 L39.75 150.95 M36 147.2 L42.9 147.2 M36 122.52 L39.75 122.52 M36 108.08 L39.75 108.08 M36 97.83 L39.75 97.83 M36 89.88 L39.75 89.88 M36 83.39 L39.75 83.39 M36 77.9 L39.75 77.9 M36 73.15 L39.75 73.15 M36 68.95 L39.75 68.95 M36 65.2 L42.9 65.2 M36 40.52 L39.75 40.52" stroke="#000" stroke-width="1.65" fill="none"/>
<rect x="36" y="32.75" width="336.2" height="233.65" fill="none" stroke="#000" stroke-width="1.55"/>
<line x1="58.4" y1="46.4" x2="103.6" y2="46.4" stroke="#2f86f0" stroke-width="1.05" stroke-dasharray="4.3 2.13"/>
<line x1="58.4" y1="62.2" x2="103.6" y2="62.2" stroke="#f00000" stroke-width="1.8"/>
<line x1="58.4" y1="78.4" x2="103.6" y2="78.4" stroke="#000" stroke-width="1.55"/>
<path transform="translate(105.4 49.8) scale(1)" d="M1.9 0.6 C2.8 -2.2 4.0 -5.2 5.2 -8.0 M1.0 -6.2 C1.4 -7.8 3.0 -8.6 5.4 -8.6 C8.2 -8.6 9.6 -7.6 9.3 -6.1 C9.0 -4.3 7.0 -3.0 4.2 -2.8" fill="none" stroke="#2f86ee" stroke-width="1" stroke-linecap="round"/>
<path transform="translate(115.4 51.6) scale(1)" d="M1.1 0 C1.6 -1.6 2.2 -3.4 2.9 -5.0 M0.1 -3.9 C0.5 -4.9 1.7 -5.3 3.4 -5.3 C5.3 -5.3 6.3 -4.7 6.1 -3.7 C5.9 -2.8 4.6 -2.4 2.9 -2.4 M3.3 -2.4 C4.5 -2.0 4.5 -0.2 5.6 -0.1 C6.4 0 7.0 -0.4 7.3 -1.1" fill="none" stroke="#2f86ee" stroke-width="0.85" stroke-linecap="round"/>
<text x="127.4" y="49.8" font-size="12.5" fill="#2f86ee" textLength="43.2" lengthAdjust="spacingAndGlyphs">samples</text>
<text x="106.3" y="65.9" font-size="12.5" fill="#f21414" textLength="27.2" lengthAdjust="spacingAndGlyphs">mean</text>
<path transform="translate(139.1 65.9) scale(1)" d="M1.9 0.6 C2.8 -2.2 4.0 -5.2 5.2 -8.0 M1.0 -6.2 C1.4 -7.8 3.0 -8.6 5.4 -8.6 C8.2 -8.6 9.6 -7.6 9.3 -6.1 C9.0 -4.3 7.0 -3.0 4.2 -2.8" fill="none" stroke="#f21414" stroke-width="1" stroke-linecap="round"/>
<path transform="translate(149.1 67.7) scale(1)" d="M1.1 0 C1.6 -1.6 2.2 -3.4 2.9 -5.0 M0.1 -3.9 C0.5 -4.9 1.7 -5.3 3.4 -5.3 C5.3 -5.3 6.3 -4.7 6.1 -3.7 C5.9 -2.8 4.6 -2.4 2.9 -2.4 M3.3 -2.4 C4.5 -2.0 4.5 -0.2 5.6 -0.1 C6.4 0 7.0 -0.4 7.3 -1.1" fill="none" stroke="#f21414" stroke-width="0.85" stroke-linecap="round"/>
<text x="106.2" y="82" font-size="12.5" fill="#2b2b2b" textLength="38.6" lengthAdjust="spacingAndGlyphs">fiducial</text>
<text x="151" y="82" font-size="12.5" fill="#2b2b2b" textLength="31.5" lengthAdjust="spacingAndGlyphs">model</text>
<path transform="translate(187.2 82) scale(1)" d="M1.9 0.6 C2.8 -2.2 4.0 -5.2 5.2 -8.0 M1.0 -6.2 C1.4 -7.8 3.0 -8.6 5.4 -8.6 C8.2 -8.6 9.6 -7.6 9.3 -6.1 C9.0 -4.3 7.0 -3.0 4.2 -2.8" fill="none" stroke="#2b2b2b" stroke-width="1" stroke-linecap="round"/>
<path transform="translate(197.2 83.8) scale(1)" d="M1.1 0 C1.6 -1.6 2.2 -3.4 2.9 -5.0 M0.1 -3.9 C0.5 -4.9 1.7 -5.3 3.4 -5.3 C5.3 -5.3 6.3 -4.7 6.1 -3.7 C5.9 -2.8 4.6 -2.4 2.9 -2.4 M3.3 -2.4 C4.5 -2.0 4.5 -0.2 5.6 -0.1 C6.4 0 7.0 -0.4 7.3 -1.1" fill="none" stroke="#2b2b2b" stroke-width="0.85" stroke-linecap="round"/>
<line x1="218.7" y1="46.4" x2="262.9" y2="46.4" stroke="#93d2f8" stroke-width="1.15" stroke-dasharray="1.2 2.1"/>
<line x1="218.7" y1="62.3" x2="262.9" y2="62.3" stroke="#8c2fd4" stroke-width="1.7"/>
<line x1="218.7" y1="78.4" x2="262.9" y2="78.4" stroke="#00ecff" stroke-width="1.6"/>
<path transform="translate(266 49.8) scale(1)" d="M1.9 0.6 C2.8 -2.2 4.0 -5.2 5.2 -8.0 M1.0 -6.2 C1.4 -7.8 3.0 -8.6 5.4 -8.6 C8.2 -8.6 9.6 -7.6 9.3 -6.1 C9.0 -4.3 7.0 -3.0 4.2 -2.8" fill="none" stroke="#a9d7f6" stroke-width="1" stroke-linecap="round"/>
<text x="276" y="51.7" font-size="9.6" fill="#a9d7f6">t</text>
<text x="283.5" y="49.8" font-size="12.5" fill="#a9d7f6" textLength="43.2" lengthAdjust="spacingAndGlyphs">samples</text>
<text x="266.8" y="65.9" font-size="12.5" fill="#8c2fd4" textLength="27.2" lengthAdjust="spacingAndGlyphs">mean</text>
<path transform="translate(299.4 65.9) scale(1)" d="M1.9 0.6 C2.8 -2.2 4.0 -5.2 5.2 -8.0 M1.0 -6.2 C1.4 -7.8 3.0 -8.6 5.4 -8.6 C8.2 -8.6 9.6 -7.6 9.3 -6.1 C9.0 -4.3 7.0 -3.0 4.2 -2.8" fill="none" stroke="#8c2fd4" stroke-width="1" stroke-linecap="round"/>
<text x="309" y="67.8" font-size="9.6" fill="#8c2fd4">t</text>
<text x="266.5" y="82" font-size="12.5" fill="#00ecff" textLength="38.6" lengthAdjust="spacingAndGlyphs">fiducial</text>
<text x="311.3" y="82" font-size="12.5" fill="#00ecff" textLength="31.5" lengthAdjust="spacingAndGlyphs">model</text>
<path transform="translate(347.3 82) scale(1)" d="M1.9 0.6 C2.8 -2.2 4.0 -5.2 5.2 -8.0 M1.0 -6.2 C1.4 -7.8 3.0 -8.6 5.4 -8.6 C8.2 -8.6 9.6 -7.6 9.3 -6.1 C9.0 -4.3 7.0 -3.0 4.2 -2.8" fill="none" stroke="#00ecff" stroke-width="1" stroke-linecap="round"/>
<text x="356.9" y="83.9" font-size="9.6" fill="#00ecff">t</text>
<text x="113" y="169.3" font-size="12.5" fill="#2b2b2b" textLength="178.6" lengthAdjust="spacingAndGlyphs">EE+lowE+lensing+BK15+BAO</text>
<text x="26.85" y="282.7" font-size="12.5" fill="#2b2b2b" textLength="13.4" lengthAdjust="spacingAndGlyphs">10</text><text x="40.45" y="278.3" font-size="8.8" fill="#2b2b2b" textLength="6" lengthAdjust="spacingAndGlyphs">−</text><text x="46.65" y="278.3" font-size="8.8" fill="#2b2b2b">4</text>
<text x="104.75" y="282.7" font-size="12.5" fill="#2b2b2b" textLength="13.4" lengthAdjust="spacingAndGlyphs">10</text><text x="118.35" y="278.3" font-size="8.8" fill="#2b2b2b" textLength="6" lengthAdjust="spacingAndGlyphs">−</text><text x="124.55" y="278.3" font-size="8.8" fill="#2b2b2b">3</text>
<text x="182.65" y="282.7" font-size="12.5" fill="#2b2b2b" textLength="13.4" lengthAdjust="spacingAndGlyphs">10</text><text x="196.25" y="278.3" font-size="8.8" fill="#2b2b2b" textLength="6" lengthAdjust="spacingAndGlyphs">−</text><text x="202.45" y="278.3" font-size="8.8" fill="#2b2b2b">2</text>
<text x="260.55" y="282.7" font-size="12.5" fill="#2b2b2b" textLength="13.4" lengthAdjust="spacingAndGlyphs">10</text><text x="274.15" y="278.3" font-size="8.8" fill="#2b2b2b" textLength="6" lengthAdjust="spacingAndGlyphs">−</text><text x="280.35" y="278.3" font-size="8.8" fill="#2b2b2b">1</text>
<text x="341.45" y="282.7" font-size="12.5" fill="#2b2b2b" textLength="13.4" lengthAdjust="spacingAndGlyphs">10</text><text x="355.15" y="278.3" font-size="8.8" fill="#2b2b2b">0</text>
<text x="98.27" y="28.3" font-size="12.5" fill="#2b2b2b" textLength="13.4" lengthAdjust="spacingAndGlyphs">10</text><text x="111.27" y="23.9" font-size="8.8" fill="#2b2b2b">1</text>
<text x="175.3" y="28.3" font-size="12.5" fill="#2b2b2b" textLength="13.4" lengthAdjust="spacingAndGlyphs">10</text><text x="189" y="23.9" font-size="8.8" fill="#2b2b2b">2</text>
<text x="253.18" y="28.3" font-size="12.5" fill="#2b2b2b" textLength="13.4" lengthAdjust="spacingAndGlyphs">10</text><text x="266.88" y="23.9" font-size="8.8" fill="#2b2b2b">3</text>
<text x="331.06" y="28.3" font-size="12.5" fill="#2b2b2b" textLength="13.4" lengthAdjust="spacingAndGlyphs">10</text><text x="344.76" y="23.9" font-size="8.8" fill="#2b2b2b">4</text>
<g transform="translate(31 229.2) rotate(-90)"><text x="-9.3" y="0" font-size="12.5" fill="#2b2b2b" textLength="13.4" lengthAdjust="spacingAndGlyphs">10</text><text x="4.4" y="-4.4" font-size="8.8" fill="#2b2b2b">0</text></g>
<g transform="translate(31 147.2) rotate(-90)"><text x="-8.45" y="0" font-size="12.5" fill="#2b2b2b" textLength="13.4" lengthAdjust="spacingAndGlyphs">10</text><text x="4.55" y="-4.4" font-size="8.8" fill="#2b2b2b">1</text></g>
<g transform="translate(31 65.2) rotate(-90)"><text x="-9.3" y="0" font-size="12.5" fill="#2b2b2b" textLength="13.4" lengthAdjust="spacingAndGlyphs">10</text><text x="4.4" y="-4.4" font-size="8.8" fill="#2b2b2b">2</text></g>
<text x="175" y="11.25" font-size="13.5" fill="#2b2b2b" font-style="italic">ℓ</text>
<text x="179.6" y="13.3" font-size="9.8" fill="#2b2b2b" font-style="italic">k</text>
<text x="187.9" y="12" font-size="15" fill="#2b2b2b" textLength="11.8" lengthAdjust="spacingAndGlyphs">≡</text>
<text x="203.6" y="11.25" font-size="12.5" fill="#2b2b2b" textLength="6.4" lengthAdjust="spacingAndGlyphs" font-style="italic">k</text>
<text x="210.7" y="11.25" font-size="12.5" fill="#2b2b2b" textLength="10.6" lengthAdjust="spacingAndGlyphs" font-style="italic">D</text>
<text x="222" y="13.3" font-size="9.6" fill="#2b2b2b" textLength="10.3" lengthAdjust="spacingAndGlyphs">rec</text>
<text x="180.1" y="298" font-size="12.5" fill="#2b2b2b" textLength="6.2" lengthAdjust="spacingAndGlyphs" font-style="italic">k</text>
<text x="186.4" y="298" font-size="12.5" fill="#2b2b2b">[</text>
<text x="189" y="298" font-size="12.5" fill="#2b2b2b" textLength="26" lengthAdjust="spacingAndGlyphs">Mpc</text>
<text x="215.5" y="293.4" font-size="8.8" fill="#2b2b2b" textLength="5.6" lengthAdjust="spacingAndGlyphs">−</text>
<text x="220.6" y="293.4" font-size="8.8" fill="#2b2b2b">1</text>
<text x="224.4" y="298" font-size="12.5" fill="#2b2b2b">]</text>
<g transform="translate(11.6 171.5) rotate(-90)"><text x="-1.4" y="0" font-size="12.5" fill="#2b2b2b" textLength="13.4" lengthAdjust="spacingAndGlyphs">10</text><text x="11.6" y="-4.3" font-size="8.8" fill="#2b2b2b" textLength="8.2" lengthAdjust="spacingAndGlyphs">10</text><path transform="translate(19.7 0) scale(1)" d="M1.9 0.6 C2.8 -2.2 4.0 -5.2 5.2 -8.0 M1.0 -6.2 C1.4 -7.8 3.0 -8.6 5.4 -8.6 C8.2 -8.6 9.6 -7.6 9.3 -6.1 C9.0 -4.3 7.0 -3.0 4.2 -2.8" fill="none" stroke="#2b2b2b" stroke-width="1" stroke-linecap="round"/><path transform="translate(29.9 2.3) scale(1)" d="M1.1 0 C1.6 -1.6 2.2 -3.4 2.9 -5.0 M0.1 -3.9 C0.5 -4.9 1.7 -5.3 3.4 -5.3 C5.3 -5.3 6.3 -4.7 6.1 -3.7 C5.9 -2.8 4.6 -2.4 2.9 -2.4 M3.3 -2.4 C4.5 -2.0 4.5 -0.2 5.6 -0.1 C6.4 0 7.0 -0.4 7.3 -1.1" fill="none" stroke="#2b2b2b" stroke-width="0.85" stroke-linecap="round"/><text x="36.9" y="2.3" font-size="8.8" fill="#2b2b2b">,</text><text x="38.9" y="2.3" font-size="8.8" fill="#2b2b2b">t</text></g>
</svg>
</body></html>
